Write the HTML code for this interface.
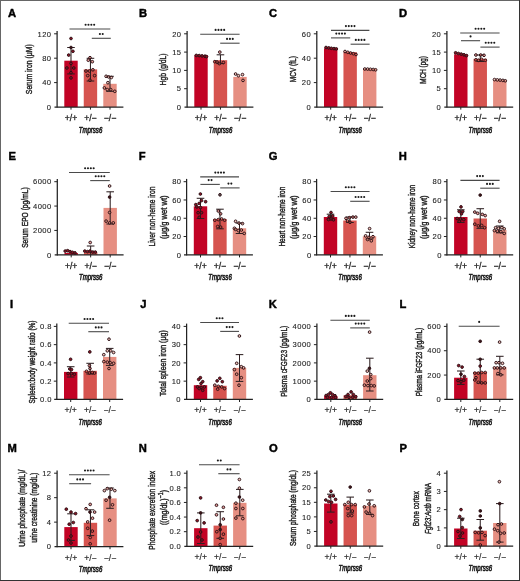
<!DOCTYPE html>
<html><head><meta charset="utf-8"><style>
html,body{margin:0;padding:0;background:#fff;}
body{width:520px;height:581px;overflow:hidden;}
svg{display:block;font-family:"Liberation Sans", sans-serif;will-change:transform;}
</style></head><body>
<svg width="520" height="581" viewBox="0 0 520 581">
<rect x="0" y="0" width="520" height="581" fill="#fff"/>
<text x="7.9" y="16.5" font-size="11.2" text-anchor="start" font-weight="bold" font-style="normal" fill="#000" stroke="#000" stroke-width="0.45" >A</text>
<rect x="64.3" y="60.7" width="13.4" height="46.3" fill="#c20325"/>
<rect x="83.75" y="69.4" width="13.4" height="37.6" fill="#d6544f"/>
<rect x="103.3" y="83.8" width="13.4" height="23.2" fill="#e68f82"/>
<line x1="71" y1="47.5" x2="71" y2="73.9" stroke="#2e2022" stroke-width="1.05"/>
<line x1="67.2" y1="47.5" x2="74.8" y2="47.5" stroke="#2e2022" stroke-width="1.05"/>
<line x1="67.2" y1="73.9" x2="74.8" y2="73.9" stroke="#2e2022" stroke-width="1.05"/>
<line x1="90.45" y1="58.3" x2="90.45" y2="81" stroke="#2e2022" stroke-width="1.05"/>
<line x1="86.65" y1="58.3" x2="94.25" y2="58.3" stroke="#2e2022" stroke-width="1.05"/>
<line x1="86.65" y1="81" x2="94.25" y2="81" stroke="#2e2022" stroke-width="1.05"/>
<line x1="110" y1="76.3" x2="110" y2="91.3" stroke="#2e2022" stroke-width="1.05"/>
<line x1="106.2" y1="76.3" x2="113.8" y2="76.3" stroke="#2e2022" stroke-width="1.05"/>
<line x1="106.2" y1="91.3" x2="113.8" y2="91.3" stroke="#2e2022" stroke-width="1.05"/>
<circle cx="71" cy="38.5" r="1.35" fill="#8e1426" stroke="#2a1014" stroke-width="0.95"/>
<circle cx="71" cy="47.5" r="1.35" fill="#3a1418" stroke="#2a1014" stroke-width="0.95"/>
<circle cx="72.9" cy="51.3" r="1.35" fill="#8e1426" stroke="#2a1014" stroke-width="0.95"/>
<circle cx="68.7" cy="55.1" r="1.35" fill="#8e1426" stroke="#2a1014" stroke-width="0.95"/>
<circle cx="66.9" cy="68" r="1.35" fill="#8e1426" stroke="#2a1014" stroke-width="0.95"/>
<circle cx="71" cy="63.4" r="1.35" fill="#8e1426" stroke="#2a1014" stroke-width="0.95"/>
<circle cx="73.8" cy="68" r="1.35" fill="#8e1426" stroke="#2a1014" stroke-width="0.95"/>
<circle cx="71" cy="72.7" r="1.35" fill="#8e1426" stroke="#2a1014" stroke-width="0.95"/>
<circle cx="71" cy="77.9" r="1.35" fill="#8e1426" stroke="#2a1014" stroke-width="0.95"/>
<circle cx="90" cy="57.7" r="1.35" fill="#d6544f" fill-opacity="0.55" stroke="#2a1014" stroke-width="0.95"/>
<circle cx="88.3" cy="60.2" r="1.35" fill="#d6544f" fill-opacity="0.55" stroke="#2a1014" stroke-width="0.95"/>
<circle cx="92.3" cy="61.7" r="1.35" fill="#d6544f" fill-opacity="0.55" stroke="#2a1014" stroke-width="0.95"/>
<circle cx="86" cy="71" r="1.35" fill="#d6544f" fill-opacity="0.55" stroke="#2a1014" stroke-width="0.95"/>
<circle cx="89.4" cy="71" r="1.35" fill="#d6544f" fill-opacity="0.55" stroke="#2a1014" stroke-width="0.95"/>
<circle cx="92.9" cy="69.8" r="1.35" fill="#d6544f" fill-opacity="0.55" stroke="#2a1014" stroke-width="0.95"/>
<circle cx="87.7" cy="75.6" r="1.35" fill="#d6544f" fill-opacity="0.55" stroke="#2a1014" stroke-width="0.95"/>
<circle cx="94.6" cy="75.6" r="1.35" fill="#d6544f" fill-opacity="0.55" stroke="#2a1014" stroke-width="0.95"/>
<circle cx="90" cy="80.2" r="1.35" fill="#d6544f" fill-opacity="0.55" stroke="#2a1014" stroke-width="0.95"/>
<circle cx="106.1" cy="76.3" r="1.35" fill="#e68f82" fill-opacity="0.55" stroke="#2a1014" stroke-width="0.95"/>
<circle cx="108.6" cy="76.9" r="1.35" fill="#e68f82" fill-opacity="0.55" stroke="#2a1014" stroke-width="0.95"/>
<circle cx="111.3" cy="77.5" r="1.35" fill="#e68f82" fill-opacity="0.55" stroke="#2a1014" stroke-width="0.95"/>
<circle cx="107.9" cy="82.7" r="1.35" fill="#e68f82" fill-opacity="0.55" stroke="#2a1014" stroke-width="0.95"/>
<circle cx="104.4" cy="87.9" r="1.35" fill="#e68f82" fill-opacity="0.55" stroke="#2a1014" stroke-width="0.95"/>
<circle cx="107.3" cy="89.6" r="1.35" fill="#e68f82" fill-opacity="0.55" stroke="#2a1014" stroke-width="0.95"/>
<circle cx="110.7" cy="89.6" r="1.35" fill="#e68f82" fill-opacity="0.55" stroke="#2a1014" stroke-width="0.95"/>
<circle cx="114.8" cy="91.3" r="1.35" fill="#e68f82" fill-opacity="0.55" stroke="#2a1014" stroke-width="0.95"/>
<line x1="57.1" y1="31" x2="57.1" y2="107.6" stroke="#222" stroke-width="1.25"/>
<line x1="54.5" y1="107" x2="123.4" y2="107" stroke="#222" stroke-width="1.25"/>
<text x="51.5" y="109.7" font-size="7.6" text-anchor="end" font-weight="normal" font-style="normal" fill="#222" stroke="#222" stroke-width="0.1" letter-spacing="0.45">0</text>
<line x1="54.1" y1="82.6" x2="57.1" y2="82.6" stroke="#222" stroke-width="1"/>
<text x="51.5" y="85.3" font-size="7.6" text-anchor="end" font-weight="normal" font-style="normal" fill="#222" stroke="#222" stroke-width="0.1" letter-spacing="0.45">40</text>
<line x1="54.1" y1="58.2" x2="57.1" y2="58.2" stroke="#222" stroke-width="1"/>
<text x="51.5" y="60.9" font-size="7.6" text-anchor="end" font-weight="normal" font-style="normal" fill="#222" stroke="#222" stroke-width="0.1" letter-spacing="0.45">80</text>
<line x1="54.1" y1="33.8" x2="57.1" y2="33.8" stroke="#222" stroke-width="1"/>
<text x="51.5" y="36.5" font-size="7.6" text-anchor="end" font-weight="normal" font-style="normal" fill="#222" stroke="#222" stroke-width="0.1" letter-spacing="0.45">120</text>
<line x1="71" y1="107" x2="71" y2="109.6" stroke="#222" stroke-width="1"/>
<text x="71" y="120.9" font-size="8.6" text-anchor="middle" font-weight="normal" font-style="normal" fill="#222" stroke="#222" stroke-width="0.3" >+/+</text>
<line x1="90.45" y1="107" x2="90.45" y2="109.6" stroke="#222" stroke-width="1"/>
<text x="90.45" y="120.9" font-size="8.6" text-anchor="middle" font-weight="normal" font-style="normal" fill="#222" stroke="#222" stroke-width="0.3" >+/−</text>
<line x1="110" y1="107" x2="110" y2="109.6" stroke="#222" stroke-width="1"/>
<text x="110" y="120.9" font-size="8.6" text-anchor="middle" font-weight="normal" font-style="normal" fill="#222" stroke="#222" stroke-width="0.3" >−/−</text>
<text x="90.5" y="132.5" font-size="9.9" text-anchor="middle" font-weight="normal" font-style="italic" fill="#222" stroke="#222" stroke-width="0.7" textLength="23.5" lengthAdjust="spacingAndGlyphs">Tmprss6</text>
<text transform="translate(31.8,69.2) rotate(-90)" x="0" y="0" font-size="9.2" text-anchor="middle" fill="#222" stroke="#222" stroke-width="0.42" textLength="50" lengthAdjust="spacingAndGlyphs">Serum iron (μM)</text>
<line x1="69.5" y1="29" x2="110.3" y2="29" stroke="#4a4a4a" stroke-width="1.1"/>
<circle cx="85.62" cy="24.7" r="1.05" fill="#1a1a1a"/>
<circle cx="88.48" cy="24.7" r="1.05" fill="#1a1a1a"/>
<circle cx="91.33" cy="24.7" r="1.05" fill="#1a1a1a"/>
<circle cx="94.18" cy="24.7" r="1.05" fill="#1a1a1a"/>
<line x1="91.8" y1="38.3" x2="110.8" y2="38.3" stroke="#4a4a4a" stroke-width="1.1"/>
<circle cx="99.88" cy="34" r="1.05" fill="#1a1a1a"/>
<circle cx="102.72" cy="34" r="1.05" fill="#1a1a1a"/>
<text x="138.9" y="16.5" font-size="11.2" text-anchor="start" font-weight="bold" font-style="normal" fill="#000" stroke="#000" stroke-width="0.45" >B</text>
<rect x="194.3" y="55.3" width="13.4" height="51.7" fill="#c20325"/>
<rect x="213.75" y="60.2" width="13.4" height="46.8" fill="#d6544f"/>
<rect x="233.3" y="76.9" width="13.4" height="30.1" fill="#e68f82"/>
<line x1="220.45" y1="54.8" x2="220.45" y2="63.6" stroke="#2e2022" stroke-width="1.05"/>
<line x1="216.65" y1="54.8" x2="224.25" y2="54.8" stroke="#2e2022" stroke-width="1.05"/>
<line x1="216.65" y1="63.6" x2="224.25" y2="63.6" stroke="#2e2022" stroke-width="1.05"/>
<circle cx="196.3" cy="55.4" r="1.35" fill="#8e1426" stroke="#2a1014" stroke-width="0.95"/>
<circle cx="199.2" cy="55.6" r="1.35" fill="#8e1426" stroke="#2a1014" stroke-width="0.95"/>
<circle cx="202.1" cy="55.9" r="1.35" fill="#8e1426" stroke="#2a1014" stroke-width="0.95"/>
<circle cx="205" cy="56.2" r="1.35" fill="#8e1426" stroke="#2a1014" stroke-width="0.95"/>
<circle cx="206.5" cy="56.6" r="1.35" fill="#8e1426" stroke="#2a1014" stroke-width="0.95"/>
<circle cx="219.8" cy="52.1" r="1.35" fill="#d6544f" fill-opacity="0.55" stroke="#2a1014" stroke-width="0.95"/>
<circle cx="214.8" cy="61.7" r="1.35" fill="#d6544f" fill-opacity="0.55" stroke="#2a1014" stroke-width="0.95"/>
<circle cx="219.4" cy="63.6" r="1.35" fill="#d6544f" fill-opacity="0.55" stroke="#2a1014" stroke-width="0.95"/>
<circle cx="223.4" cy="62.5" r="1.35" fill="#d6544f" fill-opacity="0.55" stroke="#2a1014" stroke-width="0.95"/>
<circle cx="217" cy="62" r="1.35" fill="#d6544f" fill-opacity="0.55" stroke="#2a1014" stroke-width="0.95"/>
<circle cx="235.6" cy="74" r="1.35" fill="#e68f82" fill-opacity="0.55" stroke="#2a1014" stroke-width="0.95"/>
<circle cx="238.4" cy="75.7" r="1.35" fill="#e68f82" fill-opacity="0.55" stroke="#2a1014" stroke-width="0.95"/>
<circle cx="242.5" cy="74.6" r="1.35" fill="#e68f82" fill-opacity="0.55" stroke="#2a1014" stroke-width="0.95"/>
<circle cx="243" cy="80.4" r="1.35" fill="#e68f82" fill-opacity="0.55" stroke="#2a1014" stroke-width="0.95"/>
<line x1="187.1" y1="31" x2="187.1" y2="107.6" stroke="#222" stroke-width="1.25"/>
<line x1="184.5" y1="107" x2="253.4" y2="107" stroke="#222" stroke-width="1.25"/>
<text x="181.5" y="109.7" font-size="7.6" text-anchor="end" font-weight="normal" font-style="normal" fill="#222" stroke="#222" stroke-width="0.1" letter-spacing="0.45">0</text>
<line x1="184.1" y1="88.7" x2="187.1" y2="88.7" stroke="#222" stroke-width="1"/>
<text x="181.5" y="91.4" font-size="7.6" text-anchor="end" font-weight="normal" font-style="normal" fill="#222" stroke="#222" stroke-width="0.1" letter-spacing="0.45">5</text>
<line x1="184.1" y1="70.4" x2="187.1" y2="70.4" stroke="#222" stroke-width="1"/>
<text x="181.5" y="73.1" font-size="7.6" text-anchor="end" font-weight="normal" font-style="normal" fill="#222" stroke="#222" stroke-width="0.1" letter-spacing="0.45">10</text>
<line x1="184.1" y1="52.1" x2="187.1" y2="52.1" stroke="#222" stroke-width="1"/>
<text x="181.5" y="54.8" font-size="7.6" text-anchor="end" font-weight="normal" font-style="normal" fill="#222" stroke="#222" stroke-width="0.1" letter-spacing="0.45">15</text>
<line x1="184.1" y1="33.8" x2="187.1" y2="33.8" stroke="#222" stroke-width="1"/>
<text x="181.5" y="36.5" font-size="7.6" text-anchor="end" font-weight="normal" font-style="normal" fill="#222" stroke="#222" stroke-width="0.1" letter-spacing="0.45">20</text>
<line x1="201" y1="107" x2="201" y2="109.6" stroke="#222" stroke-width="1"/>
<text x="201" y="120.9" font-size="8.6" text-anchor="middle" font-weight="normal" font-style="normal" fill="#222" stroke="#222" stroke-width="0.3" >+/+</text>
<line x1="220.45" y1="107" x2="220.45" y2="109.6" stroke="#222" stroke-width="1"/>
<text x="220.45" y="120.9" font-size="8.6" text-anchor="middle" font-weight="normal" font-style="normal" fill="#222" stroke="#222" stroke-width="0.3" >+/−</text>
<line x1="240" y1="107" x2="240" y2="109.6" stroke="#222" stroke-width="1"/>
<text x="240" y="120.9" font-size="8.6" text-anchor="middle" font-weight="normal" font-style="normal" fill="#222" stroke="#222" stroke-width="0.3" >−/−</text>
<text x="220.5" y="132.5" font-size="9.9" text-anchor="middle" font-weight="normal" font-style="italic" fill="#222" stroke="#222" stroke-width="0.7" textLength="23.5" lengthAdjust="spacingAndGlyphs">Tmprss6</text>
<text transform="translate(165.7,69.4) rotate(-90)" x="0" y="0" font-size="9.2" text-anchor="middle" fill="#222" stroke="#222" stroke-width="0.42" textLength="32" lengthAdjust="spacingAndGlyphs">Hgb (g/dL)</text>
<line x1="200.2" y1="34.2" x2="239.6" y2="34.2" stroke="#4a4a4a" stroke-width="1.1"/>
<circle cx="215.62" cy="29.9" r="1.05" fill="#1a1a1a"/>
<circle cx="218.47" cy="29.9" r="1.05" fill="#1a1a1a"/>
<circle cx="221.32" cy="29.9" r="1.05" fill="#1a1a1a"/>
<circle cx="224.17" cy="29.9" r="1.05" fill="#1a1a1a"/>
<line x1="220.2" y1="43.2" x2="239.6" y2="43.2" stroke="#4a4a4a" stroke-width="1.1"/>
<circle cx="227.05" cy="38.9" r="1.05" fill="#1a1a1a"/>
<circle cx="229.9" cy="38.9" r="1.05" fill="#1a1a1a"/>
<circle cx="232.75" cy="38.9" r="1.05" fill="#1a1a1a"/>
<text x="268.9" y="16.5" font-size="11.2" text-anchor="start" font-weight="bold" font-style="normal" fill="#000" stroke="#000" stroke-width="0.45" >C</text>
<rect x="324" y="48.3" width="13.4" height="58.7" fill="#c20325"/>
<rect x="343.45" y="52.2" width="13.4" height="54.8" fill="#d6544f"/>
<rect x="363" y="68.9" width="13.4" height="38.1" fill="#e68f82"/>
<circle cx="326" cy="47.5" r="1.35" fill="#8e1426" stroke="#2a1014" stroke-width="0.95"/>
<circle cx="328.7" cy="47.9" r="1.35" fill="#8e1426" stroke="#2a1014" stroke-width="0.95"/>
<circle cx="331.3" cy="48.3" r="1.35" fill="#8e1426" stroke="#2a1014" stroke-width="0.95"/>
<circle cx="334" cy="48.6" r="1.35" fill="#8e1426" stroke="#2a1014" stroke-width="0.95"/>
<circle cx="336.3" cy="48.9" r="1.35" fill="#8e1426" stroke="#2a1014" stroke-width="0.95"/>
<circle cx="345" cy="51.5" r="1.35" fill="#d6544f" fill-opacity="0.55" stroke="#2a1014" stroke-width="0.95"/>
<circle cx="347.8" cy="52.3" r="1.35" fill="#d6544f" fill-opacity="0.55" stroke="#2a1014" stroke-width="0.95"/>
<circle cx="350.6" cy="53" r="1.35" fill="#d6544f" fill-opacity="0.55" stroke="#2a1014" stroke-width="0.95"/>
<circle cx="353.4" cy="53.7" r="1.35" fill="#d6544f" fill-opacity="0.55" stroke="#2a1014" stroke-width="0.95"/>
<circle cx="356" cy="54.5" r="1.35" fill="#d6544f" fill-opacity="0.55" stroke="#2a1014" stroke-width="0.95"/>
<circle cx="364.8" cy="69" r="1.35" fill="#e68f82" fill-opacity="0.55" stroke="#2a1014" stroke-width="0.95"/>
<circle cx="367.6" cy="69.1" r="1.35" fill="#e68f82" fill-opacity="0.55" stroke="#2a1014" stroke-width="0.95"/>
<circle cx="370.4" cy="69.3" r="1.35" fill="#e68f82" fill-opacity="0.55" stroke="#2a1014" stroke-width="0.95"/>
<circle cx="373.2" cy="69.5" r="1.35" fill="#e68f82" fill-opacity="0.55" stroke="#2a1014" stroke-width="0.95"/>
<circle cx="375.6" cy="69.8" r="1.35" fill="#e68f82" fill-opacity="0.55" stroke="#2a1014" stroke-width="0.95"/>
<line x1="316.8" y1="31" x2="316.8" y2="107.6" stroke="#222" stroke-width="1.25"/>
<line x1="314.2" y1="107" x2="383.1" y2="107" stroke="#222" stroke-width="1.25"/>
<text x="311.2" y="109.7" font-size="7.6" text-anchor="end" font-weight="normal" font-style="normal" fill="#222" stroke="#222" stroke-width="0.1" letter-spacing="0.45">0</text>
<line x1="313.8" y1="82.6" x2="316.8" y2="82.6" stroke="#222" stroke-width="1"/>
<text x="311.2" y="85.3" font-size="7.6" text-anchor="end" font-weight="normal" font-style="normal" fill="#222" stroke="#222" stroke-width="0.1" letter-spacing="0.45">20</text>
<line x1="313.8" y1="58.2" x2="316.8" y2="58.2" stroke="#222" stroke-width="1"/>
<text x="311.2" y="60.9" font-size="7.6" text-anchor="end" font-weight="normal" font-style="normal" fill="#222" stroke="#222" stroke-width="0.1" letter-spacing="0.45">40</text>
<line x1="313.8" y1="33.8" x2="316.8" y2="33.8" stroke="#222" stroke-width="1"/>
<text x="311.2" y="36.5" font-size="7.6" text-anchor="end" font-weight="normal" font-style="normal" fill="#222" stroke="#222" stroke-width="0.1" letter-spacing="0.45">60</text>
<line x1="330.7" y1="107" x2="330.7" y2="109.6" stroke="#222" stroke-width="1"/>
<text x="330.7" y="120.9" font-size="8.6" text-anchor="middle" font-weight="normal" font-style="normal" fill="#222" stroke="#222" stroke-width="0.3" >+/+</text>
<line x1="350.15" y1="107" x2="350.15" y2="109.6" stroke="#222" stroke-width="1"/>
<text x="350.15" y="120.9" font-size="8.6" text-anchor="middle" font-weight="normal" font-style="normal" fill="#222" stroke="#222" stroke-width="0.3" >+/−</text>
<line x1="369.7" y1="107" x2="369.7" y2="109.6" stroke="#222" stroke-width="1"/>
<text x="369.7" y="120.9" font-size="8.6" text-anchor="middle" font-weight="normal" font-style="normal" fill="#222" stroke="#222" stroke-width="0.3" >−/−</text>
<text x="350.2" y="132.5" font-size="9.9" text-anchor="middle" font-weight="normal" font-style="italic" fill="#222" stroke="#222" stroke-width="0.7" textLength="23.5" lengthAdjust="spacingAndGlyphs">Tmprss6</text>
<text transform="translate(295.7,69.2) rotate(-90)" x="0" y="0" font-size="9.2" text-anchor="middle" fill="#222" stroke="#222" stroke-width="0.42" textLength="26" lengthAdjust="spacingAndGlyphs">MCV (fL)</text>
<line x1="331" y1="30.4" x2="369.4" y2="30.4" stroke="#4a4a4a" stroke-width="1.1"/>
<circle cx="345.93" cy="26.1" r="1.05" fill="#1a1a1a"/>
<circle cx="348.77" cy="26.1" r="1.05" fill="#1a1a1a"/>
<circle cx="351.62" cy="26.1" r="1.05" fill="#1a1a1a"/>
<circle cx="354.47" cy="26.1" r="1.05" fill="#1a1a1a"/>
<line x1="331" y1="37.9" x2="350.2" y2="37.9" stroke="#4a4a4a" stroke-width="1.1"/>
<circle cx="336.33" cy="33.6" r="1.05" fill="#1a1a1a"/>
<circle cx="339.18" cy="33.6" r="1.05" fill="#1a1a1a"/>
<circle cx="342.03" cy="33.6" r="1.05" fill="#1a1a1a"/>
<circle cx="344.88" cy="33.6" r="1.05" fill="#1a1a1a"/>
<line x1="350.6" y1="44.2" x2="369.6" y2="44.2" stroke="#4a4a4a" stroke-width="1.1"/>
<circle cx="355.83" cy="39.9" r="1.05" fill="#1a1a1a"/>
<circle cx="358.68" cy="39.9" r="1.05" fill="#1a1a1a"/>
<circle cx="361.53" cy="39.9" r="1.05" fill="#1a1a1a"/>
<circle cx="364.38" cy="39.9" r="1.05" fill="#1a1a1a"/>
<text x="398.9" y="16.5" font-size="11.2" text-anchor="start" font-weight="bold" font-style="normal" fill="#000" stroke="#000" stroke-width="0.45" >D</text>
<rect x="454.1" y="54.3" width="13.4" height="52.7" fill="#c20325"/>
<rect x="473.55" y="58.8" width="13.4" height="48.2" fill="#d6544f"/>
<rect x="493.1" y="80.2" width="13.4" height="26.8" fill="#e68f82"/>
<line x1="480.25" y1="55" x2="480.25" y2="61.5" stroke="#2e2022" stroke-width="1.05"/>
<line x1="476.45" y1="55" x2="484.05" y2="55" stroke="#2e2022" stroke-width="1.05"/>
<line x1="476.45" y1="61.5" x2="484.05" y2="61.5" stroke="#2e2022" stroke-width="1.05"/>
<circle cx="455.6" cy="52.8" r="1.35" fill="#8e1426" stroke="#2a1014" stroke-width="0.95"/>
<circle cx="458.4" cy="53.5" r="1.35" fill="#8e1426" stroke="#2a1014" stroke-width="0.95"/>
<circle cx="461.2" cy="54.1" r="1.35" fill="#8e1426" stroke="#2a1014" stroke-width="0.95"/>
<circle cx="464" cy="54.8" r="1.35" fill="#8e1426" stroke="#2a1014" stroke-width="0.95"/>
<circle cx="466.5" cy="55.6" r="1.35" fill="#8e1426" stroke="#2a1014" stroke-width="0.95"/>
<circle cx="475.9" cy="55" r="1.35" fill="#d6544f" fill-opacity="0.55" stroke="#2a1014" stroke-width="0.95"/>
<circle cx="480.7" cy="55" r="1.35" fill="#d6544f" fill-opacity="0.55" stroke="#2a1014" stroke-width="0.95"/>
<circle cx="484" cy="55.3" r="1.35" fill="#d6544f" fill-opacity="0.55" stroke="#2a1014" stroke-width="0.95"/>
<circle cx="475.9" cy="59.8" r="1.35" fill="#d6544f" fill-opacity="0.55" stroke="#2a1014" stroke-width="0.95"/>
<circle cx="478.6" cy="60.3" r="1.35" fill="#d6544f" fill-opacity="0.55" stroke="#2a1014" stroke-width="0.95"/>
<circle cx="481.6" cy="59.3" r="1.35" fill="#d6544f" fill-opacity="0.55" stroke="#2a1014" stroke-width="0.95"/>
<circle cx="485.3" cy="60.3" r="1.35" fill="#d6544f" fill-opacity="0.55" stroke="#2a1014" stroke-width="0.95"/>
<circle cx="494.5" cy="79.6" r="1.35" fill="#e68f82" fill-opacity="0.55" stroke="#2a1014" stroke-width="0.95"/>
<circle cx="497.3" cy="79.9" r="1.35" fill="#e68f82" fill-opacity="0.55" stroke="#2a1014" stroke-width="0.95"/>
<circle cx="500.1" cy="80.1" r="1.35" fill="#e68f82" fill-opacity="0.55" stroke="#2a1014" stroke-width="0.95"/>
<circle cx="502.9" cy="80.4" r="1.35" fill="#e68f82" fill-opacity="0.55" stroke="#2a1014" stroke-width="0.95"/>
<circle cx="505.3" cy="80.8" r="1.35" fill="#e68f82" fill-opacity="0.55" stroke="#2a1014" stroke-width="0.95"/>
<line x1="446.9" y1="31" x2="446.9" y2="107.6" stroke="#222" stroke-width="1.25"/>
<line x1="444.3" y1="107" x2="513.2" y2="107" stroke="#222" stroke-width="1.25"/>
<text x="441.3" y="109.7" font-size="7.6" text-anchor="end" font-weight="normal" font-style="normal" fill="#222" stroke="#222" stroke-width="0.1" letter-spacing="0.45">0</text>
<line x1="443.9" y1="88.7" x2="446.9" y2="88.7" stroke="#222" stroke-width="1"/>
<text x="441.3" y="91.4" font-size="7.6" text-anchor="end" font-weight="normal" font-style="normal" fill="#222" stroke="#222" stroke-width="0.1" letter-spacing="0.45">5</text>
<line x1="443.9" y1="70.4" x2="446.9" y2="70.4" stroke="#222" stroke-width="1"/>
<text x="441.3" y="73.1" font-size="7.6" text-anchor="end" font-weight="normal" font-style="normal" fill="#222" stroke="#222" stroke-width="0.1" letter-spacing="0.45">10</text>
<line x1="443.9" y1="52.1" x2="446.9" y2="52.1" stroke="#222" stroke-width="1"/>
<text x="441.3" y="54.8" font-size="7.6" text-anchor="end" font-weight="normal" font-style="normal" fill="#222" stroke="#222" stroke-width="0.1" letter-spacing="0.45">15</text>
<line x1="443.9" y1="33.8" x2="446.9" y2="33.8" stroke="#222" stroke-width="1"/>
<text x="441.3" y="36.5" font-size="7.6" text-anchor="end" font-weight="normal" font-style="normal" fill="#222" stroke="#222" stroke-width="0.1" letter-spacing="0.45">20</text>
<line x1="460.8" y1="107" x2="460.8" y2="109.6" stroke="#222" stroke-width="1"/>
<text x="460.8" y="120.9" font-size="8.6" text-anchor="middle" font-weight="normal" font-style="normal" fill="#222" stroke="#222" stroke-width="0.3" >+/+</text>
<line x1="480.25" y1="107" x2="480.25" y2="109.6" stroke="#222" stroke-width="1"/>
<text x="480.25" y="120.9" font-size="8.6" text-anchor="middle" font-weight="normal" font-style="normal" fill="#222" stroke="#222" stroke-width="0.3" >+/−</text>
<line x1="499.8" y1="107" x2="499.8" y2="109.6" stroke="#222" stroke-width="1"/>
<text x="499.8" y="120.9" font-size="8.6" text-anchor="middle" font-weight="normal" font-style="normal" fill="#222" stroke="#222" stroke-width="0.3" >−/−</text>
<text x="480.3" y="132.5" font-size="9.9" text-anchor="middle" font-weight="normal" font-style="italic" fill="#222" stroke="#222" stroke-width="0.7" textLength="23.5" lengthAdjust="spacingAndGlyphs">Tmprss6</text>
<text transform="translate(425.7,69.9) rotate(-90)" x="0" y="0" font-size="9.2" text-anchor="middle" fill="#222" stroke="#222" stroke-width="0.42" textLength="27.5" lengthAdjust="spacingAndGlyphs">MCH (pg)</text>
<line x1="460.2" y1="33" x2="499.6" y2="33" stroke="#4a4a4a" stroke-width="1.1"/>
<circle cx="475.62" cy="28.7" r="1.05" fill="#1a1a1a"/>
<circle cx="478.47" cy="28.7" r="1.05" fill="#1a1a1a"/>
<circle cx="481.32" cy="28.7" r="1.05" fill="#1a1a1a"/>
<circle cx="484.17" cy="28.7" r="1.05" fill="#1a1a1a"/>
<line x1="461" y1="40.7" x2="480.1" y2="40.7" stroke="#4a4a4a" stroke-width="1.1"/>
<circle cx="470.55" cy="36.4" r="1.05" fill="#1a1a1a"/>
<line x1="480.4" y1="47.1" x2="499.6" y2="47.1" stroke="#4a4a4a" stroke-width="1.1"/>
<circle cx="485.73" cy="42.8" r="1.05" fill="#1a1a1a"/>
<circle cx="488.57" cy="42.8" r="1.05" fill="#1a1a1a"/>
<circle cx="491.43" cy="42.8" r="1.05" fill="#1a1a1a"/>
<circle cx="494.27" cy="42.8" r="1.05" fill="#1a1a1a"/>
<text x="8.6" y="160.3" font-size="11.2" text-anchor="start" font-weight="bold" font-style="normal" fill="#000" stroke="#000" stroke-width="0.45" >E</text>
<rect x="64.5" y="253" width="13.4" height="1.8" fill="#c20325"/>
<rect x="83.95" y="252.3" width="13.4" height="2.5" fill="#d6544f"/>
<rect x="103.5" y="207.9" width="13.4" height="46.9" fill="#e68f82"/>
<line x1="90.65" y1="246" x2="90.65" y2="254.8" stroke="#2e2022" stroke-width="1.05"/>
<line x1="86.85" y1="246" x2="94.45" y2="246" stroke="#2e2022" stroke-width="1.05"/>
<line x1="110.2" y1="191.8" x2="110.2" y2="224" stroke="#2e2022" stroke-width="1.05"/>
<line x1="106.4" y1="191.8" x2="114" y2="191.8" stroke="#2e2022" stroke-width="1.05"/>
<line x1="106.4" y1="224" x2="114" y2="224" stroke="#2e2022" stroke-width="1.05"/>
<circle cx="65.2" cy="251.1" r="1.35" fill="#8e1426" stroke="#2a1014" stroke-width="0.95"/>
<circle cx="67.6" cy="250.7" r="1.35" fill="#8e1426" stroke="#2a1014" stroke-width="0.95"/>
<circle cx="70" cy="251.6" r="1.35" fill="#8e1426" stroke="#2a1014" stroke-width="0.95"/>
<circle cx="72.4" cy="252.3" r="1.35" fill="#8e1426" stroke="#2a1014" stroke-width="0.95"/>
<circle cx="75" cy="252.9" r="1.35" fill="#8e1426" stroke="#2a1014" stroke-width="0.95"/>
<circle cx="90.2" cy="242.5" r="1.35" fill="#d6544f" fill-opacity="0.55" stroke="#2a1014" stroke-width="0.95"/>
<circle cx="84.8" cy="251.1" r="1.35" fill="#8e1426" stroke="#2a1014" stroke-width="0.95"/>
<circle cx="87.5" cy="251.6" r="1.35" fill="#8e1426" stroke="#2a1014" stroke-width="0.95"/>
<circle cx="90" cy="251.1" r="1.35" fill="#8e1426" stroke="#2a1014" stroke-width="0.95"/>
<circle cx="92.8" cy="252.1" r="1.35" fill="#8e1426" stroke="#2a1014" stroke-width="0.95"/>
<circle cx="95.3" cy="252.1" r="1.35" fill="#8e1426" stroke="#2a1014" stroke-width="0.95"/>
<circle cx="109.6" cy="186" r="1.35" fill="#e68f82" fill-opacity="0.55" stroke="#2a1014" stroke-width="0.95"/>
<circle cx="109.6" cy="197.1" r="1.35" fill="#3a1418" stroke="#2a1014" stroke-width="0.95"/>
<circle cx="109.6" cy="212.5" r="1.35" fill="#e68f82" fill-opacity="0.55" stroke="#2a1014" stroke-width="0.95"/>
<circle cx="106.1" cy="221.1" r="1.35" fill="#e68f82" fill-opacity="0.55" stroke="#2a1014" stroke-width="0.95"/>
<circle cx="109.6" cy="222.9" r="1.35" fill="#e68f82" fill-opacity="0.55" stroke="#2a1014" stroke-width="0.95"/>
<circle cx="113.3" cy="222.9" r="1.35" fill="#e68f82" fill-opacity="0.55" stroke="#2a1014" stroke-width="0.95"/>
<line x1="57.3" y1="178.9" x2="57.3" y2="255.4" stroke="#222" stroke-width="1.25"/>
<line x1="54.7" y1="254.8" x2="123.6" y2="254.8" stroke="#222" stroke-width="1.25"/>
<text x="51.7" y="257.5" font-size="7.6" text-anchor="end" font-weight="normal" font-style="normal" fill="#222" stroke="#222" stroke-width="0.1" letter-spacing="0.45">0</text>
<line x1="54.3" y1="230.43" x2="57.3" y2="230.43" stroke="#222" stroke-width="1"/>
<text x="51.7" y="233.13" font-size="7.6" text-anchor="end" font-weight="normal" font-style="normal" fill="#222" stroke="#222" stroke-width="0.1" letter-spacing="0.45">2000</text>
<line x1="54.3" y1="206.07" x2="57.3" y2="206.07" stroke="#222" stroke-width="1"/>
<text x="51.7" y="208.77" font-size="7.6" text-anchor="end" font-weight="normal" font-style="normal" fill="#222" stroke="#222" stroke-width="0.1" letter-spacing="0.45">4000</text>
<line x1="54.3" y1="181.7" x2="57.3" y2="181.7" stroke="#222" stroke-width="1"/>
<text x="51.7" y="184.4" font-size="7.6" text-anchor="end" font-weight="normal" font-style="normal" fill="#222" stroke="#222" stroke-width="0.1" letter-spacing="0.45">6000</text>
<line x1="71.2" y1="254.8" x2="71.2" y2="257.4" stroke="#222" stroke-width="1"/>
<text x="71.2" y="269.2" font-size="8.6" text-anchor="middle" font-weight="normal" font-style="normal" fill="#222" stroke="#222" stroke-width="0.3" >+/+</text>
<line x1="90.65" y1="254.8" x2="90.65" y2="257.4" stroke="#222" stroke-width="1"/>
<text x="90.65" y="269.2" font-size="8.6" text-anchor="middle" font-weight="normal" font-style="normal" fill="#222" stroke="#222" stroke-width="0.3" >+/−</text>
<line x1="110.2" y1="254.8" x2="110.2" y2="257.4" stroke="#222" stroke-width="1"/>
<text x="110.2" y="269.2" font-size="8.6" text-anchor="middle" font-weight="normal" font-style="normal" fill="#222" stroke="#222" stroke-width="0.3" >−/−</text>
<text x="90.7" y="280.3" font-size="9.9" text-anchor="middle" font-weight="normal" font-style="italic" fill="#222" stroke="#222" stroke-width="0.7" textLength="23.5" lengthAdjust="spacingAndGlyphs">Tmprss6</text>
<text transform="translate(27.5,217.6) rotate(-90)" x="0" y="0" font-size="9.2" text-anchor="middle" fill="#222" stroke="#222" stroke-width="0.42" textLength="60.5" lengthAdjust="spacingAndGlyphs">Serum EPO (pg/mL)</text>
<line x1="69" y1="172.5" x2="109.8" y2="172.5" stroke="#4a4a4a" stroke-width="1.1"/>
<circle cx="85.12" cy="168.2" r="1.05" fill="#1a1a1a"/>
<circle cx="87.98" cy="168.2" r="1.05" fill="#1a1a1a"/>
<circle cx="90.83" cy="168.2" r="1.05" fill="#1a1a1a"/>
<circle cx="93.68" cy="168.2" r="1.05" fill="#1a1a1a"/>
<line x1="90.2" y1="180.6" x2="109.8" y2="180.6" stroke="#4a4a4a" stroke-width="1.1"/>
<circle cx="95.72" cy="176.3" r="1.05" fill="#1a1a1a"/>
<circle cx="98.58" cy="176.3" r="1.05" fill="#1a1a1a"/>
<circle cx="101.42" cy="176.3" r="1.05" fill="#1a1a1a"/>
<circle cx="104.28" cy="176.3" r="1.05" fill="#1a1a1a"/>
<text x="138.7" y="160.3" font-size="11.2" text-anchor="start" font-weight="bold" font-style="normal" fill="#000" stroke="#000" stroke-width="0.45" >F</text>
<rect x="193.8" y="206.3" width="13.4" height="48.5" fill="#c20325"/>
<rect x="213.25" y="219" width="13.4" height="35.8" fill="#d6544f"/>
<rect x="232.8" y="228.3" width="13.4" height="26.5" fill="#e68f82"/>
<line x1="200.5" y1="198.3" x2="200.5" y2="218.5" stroke="#2e2022" stroke-width="1.05"/>
<line x1="196.7" y1="198.3" x2="204.3" y2="198.3" stroke="#2e2022" stroke-width="1.05"/>
<line x1="196.7" y1="218.5" x2="204.3" y2="218.5" stroke="#2e2022" stroke-width="1.05"/>
<line x1="219.95" y1="209.2" x2="219.95" y2="228.8" stroke="#2e2022" stroke-width="1.05"/>
<line x1="216.15" y1="209.2" x2="223.75" y2="209.2" stroke="#2e2022" stroke-width="1.05"/>
<line x1="216.15" y1="228.8" x2="223.75" y2="228.8" stroke="#2e2022" stroke-width="1.05"/>
<line x1="239.5" y1="223.1" x2="239.5" y2="233.5" stroke="#2e2022" stroke-width="1.05"/>
<line x1="235.7" y1="223.1" x2="243.3" y2="223.1" stroke="#2e2022" stroke-width="1.05"/>
<line x1="235.7" y1="233.5" x2="243.3" y2="233.5" stroke="#2e2022" stroke-width="1.05"/>
<circle cx="200.4" cy="194" r="1.35" fill="#8e1426" stroke="#2a1014" stroke-width="0.95"/>
<circle cx="201.5" cy="200.6" r="1.35" fill="#8e1426" stroke="#2a1014" stroke-width="0.95"/>
<circle cx="205.6" cy="201.7" r="1.35" fill="#8e1426" stroke="#2a1014" stroke-width="0.95"/>
<circle cx="199.2" cy="203.4" r="1.35" fill="#8e1426" stroke="#2a1014" stroke-width="0.95"/>
<circle cx="195.8" cy="204.6" r="1.35" fill="#8e1426" stroke="#2a1014" stroke-width="0.95"/>
<circle cx="196.9" cy="206.9" r="1.35" fill="#8e1426" stroke="#2a1014" stroke-width="0.95"/>
<circle cx="200.5" cy="207.5" r="1.35" fill="#8e1426" stroke="#2a1014" stroke-width="0.95"/>
<circle cx="198.1" cy="212.7" r="1.35" fill="#8e1426" stroke="#2a1014" stroke-width="0.95"/>
<circle cx="201.5" cy="212.7" r="1.35" fill="#8e1426" stroke="#2a1014" stroke-width="0.95"/>
<circle cx="199.2" cy="217.3" r="1.35" fill="#8e1426" stroke="#2a1014" stroke-width="0.95"/>
<circle cx="220" cy="194.8" r="1.35" fill="#6a5a5c" stroke="#2a1014" stroke-width="0.95"/>
<circle cx="218.3" cy="211" r="1.35" fill="#d6544f" fill-opacity="0.55" stroke="#2a1014" stroke-width="0.95"/>
<circle cx="220.6" cy="213.8" r="1.35" fill="#d6544f" fill-opacity="0.55" stroke="#2a1014" stroke-width="0.95"/>
<circle cx="214.8" cy="220.2" r="1.35" fill="#d6544f" fill-opacity="0.55" stroke="#2a1014" stroke-width="0.95"/>
<circle cx="218.3" cy="219.6" r="1.35" fill="#d6544f" fill-opacity="0.55" stroke="#2a1014" stroke-width="0.95"/>
<circle cx="221.7" cy="219" r="1.35" fill="#d6544f" fill-opacity="0.55" stroke="#2a1014" stroke-width="0.95"/>
<circle cx="224.6" cy="220.2" r="1.35" fill="#d6544f" fill-opacity="0.55" stroke="#2a1014" stroke-width="0.95"/>
<circle cx="217.7" cy="226.5" r="1.35" fill="#d6544f" fill-opacity="0.55" stroke="#2a1014" stroke-width="0.95"/>
<circle cx="220.6" cy="227.1" r="1.35" fill="#d6544f" fill-opacity="0.55" stroke="#2a1014" stroke-width="0.95"/>
<circle cx="235.6" cy="221.3" r="1.35" fill="#e68f82" fill-opacity="0.55" stroke="#2a1014" stroke-width="0.95"/>
<circle cx="239" cy="223.1" r="1.35" fill="#e68f82" fill-opacity="0.55" stroke="#2a1014" stroke-width="0.95"/>
<circle cx="242.5" cy="223.6" r="1.35" fill="#e68f82" fill-opacity="0.55" stroke="#2a1014" stroke-width="0.95"/>
<circle cx="234.4" cy="228.3" r="1.35" fill="#e68f82" fill-opacity="0.55" stroke="#2a1014" stroke-width="0.95"/>
<circle cx="235.6" cy="229.4" r="1.35" fill="#e68f82" fill-opacity="0.55" stroke="#2a1014" stroke-width="0.95"/>
<circle cx="238.4" cy="230.6" r="1.35" fill="#e68f82" fill-opacity="0.55" stroke="#2a1014" stroke-width="0.95"/>
<circle cx="241.3" cy="230" r="1.35" fill="#e68f82" fill-opacity="0.55" stroke="#2a1014" stroke-width="0.95"/>
<circle cx="244.2" cy="233.4" r="1.35" fill="#e68f82" fill-opacity="0.55" stroke="#2a1014" stroke-width="0.95"/>
<line x1="186.6" y1="178.9" x2="186.6" y2="255.4" stroke="#222" stroke-width="1.25"/>
<line x1="184" y1="254.8" x2="252.9" y2="254.8" stroke="#222" stroke-width="1.25"/>
<text x="181.5" y="257.5" font-size="7.6" text-anchor="end" font-weight="normal" font-style="normal" fill="#222" stroke="#222" stroke-width="0.1" letter-spacing="0.45">0</text>
<line x1="183.6" y1="236.53" x2="186.6" y2="236.53" stroke="#222" stroke-width="1"/>
<text x="181.5" y="239.22" font-size="7.6" text-anchor="end" font-weight="normal" font-style="normal" fill="#222" stroke="#222" stroke-width="0.1" letter-spacing="0.45">20</text>
<line x1="183.6" y1="218.25" x2="186.6" y2="218.25" stroke="#222" stroke-width="1"/>
<text x="181.5" y="220.95" font-size="7.6" text-anchor="end" font-weight="normal" font-style="normal" fill="#222" stroke="#222" stroke-width="0.1" letter-spacing="0.45">40</text>
<line x1="183.6" y1="199.97" x2="186.6" y2="199.97" stroke="#222" stroke-width="1"/>
<text x="181.5" y="202.67" font-size="7.6" text-anchor="end" font-weight="normal" font-style="normal" fill="#222" stroke="#222" stroke-width="0.1" letter-spacing="0.45">60</text>
<line x1="183.6" y1="181.7" x2="186.6" y2="181.7" stroke="#222" stroke-width="1"/>
<text x="181.5" y="184.4" font-size="7.6" text-anchor="end" font-weight="normal" font-style="normal" fill="#222" stroke="#222" stroke-width="0.1" letter-spacing="0.45">80</text>
<line x1="200.5" y1="254.8" x2="200.5" y2="257.4" stroke="#222" stroke-width="1"/>
<text x="200.5" y="269.2" font-size="8.6" text-anchor="middle" font-weight="normal" font-style="normal" fill="#222" stroke="#222" stroke-width="0.3" >+/+</text>
<line x1="219.95" y1="254.8" x2="219.95" y2="257.4" stroke="#222" stroke-width="1"/>
<text x="219.95" y="269.2" font-size="8.6" text-anchor="middle" font-weight="normal" font-style="normal" fill="#222" stroke="#222" stroke-width="0.3" >+/−</text>
<line x1="239.5" y1="254.8" x2="239.5" y2="257.4" stroke="#222" stroke-width="1"/>
<text x="239.5" y="269.2" font-size="8.6" text-anchor="middle" font-weight="normal" font-style="normal" fill="#222" stroke="#222" stroke-width="0.3" >−/−</text>
<text x="220" y="280.3" font-size="9.9" text-anchor="middle" font-weight="normal" font-style="italic" fill="#222" stroke="#222" stroke-width="0.7" textLength="23.5" lengthAdjust="spacingAndGlyphs">Tmprss6</text>
<text transform="translate(155.2,216.4) rotate(-90)" x="0" y="0" font-size="9.2" text-anchor="middle" fill="#222" stroke="#222" stroke-width="0.42" textLength="60" lengthAdjust="spacingAndGlyphs">Liver non-heme iron</text>
<text transform="translate(166.5,217.2) rotate(-90)" x="0" y="0" font-size="9.2" text-anchor="middle" fill="#222" stroke="#222" stroke-width="0.42" textLength="43.5" lengthAdjust="spacingAndGlyphs">(μg/g wet wt)</text>
<line x1="200.2" y1="176.9" x2="239" y2="176.9" stroke="#4a4a4a" stroke-width="1.1"/>
<circle cx="215.32" cy="172.6" r="1.05" fill="#1a1a1a"/>
<circle cx="218.17" cy="172.6" r="1.05" fill="#1a1a1a"/>
<circle cx="221.03" cy="172.6" r="1.05" fill="#1a1a1a"/>
<circle cx="223.88" cy="172.6" r="1.05" fill="#1a1a1a"/>
<line x1="200.4" y1="184.4" x2="219.8" y2="184.4" stroke="#4a4a4a" stroke-width="1.1"/>
<circle cx="208.68" cy="180.1" r="1.05" fill="#1a1a1a"/>
<circle cx="211.53" cy="180.1" r="1.05" fill="#1a1a1a"/>
<line x1="220.2" y1="187.9" x2="239.6" y2="187.9" stroke="#4a4a4a" stroke-width="1.1"/>
<circle cx="228.47" cy="183.6" r="1.05" fill="#1a1a1a"/>
<circle cx="231.32" cy="183.6" r="1.05" fill="#1a1a1a"/>
<text x="268.7" y="160.3" font-size="11.2" text-anchor="start" font-weight="bold" font-style="normal" fill="#000" stroke="#000" stroke-width="0.45" >G</text>
<rect x="323.8" y="217" width="13.4" height="37.8" fill="#c20325"/>
<rect x="343.25" y="220.5" width="13.4" height="34.3" fill="#d6544f"/>
<rect x="362.8" y="236.3" width="13.4" height="18.5" fill="#e68f82"/>
<line x1="330.5" y1="214.2" x2="330.5" y2="219" stroke="#2e2022" stroke-width="1.05"/>
<line x1="326.7" y1="214.2" x2="334.3" y2="214.2" stroke="#2e2022" stroke-width="1.05"/>
<line x1="326.7" y1="219" x2="334.3" y2="219" stroke="#2e2022" stroke-width="1.05"/>
<line x1="349.95" y1="217" x2="349.95" y2="222.5" stroke="#2e2022" stroke-width="1.05"/>
<line x1="346.15" y1="217" x2="353.75" y2="217" stroke="#2e2022" stroke-width="1.05"/>
<line x1="346.15" y1="222.5" x2="353.75" y2="222.5" stroke="#2e2022" stroke-width="1.05"/>
<line x1="369.5" y1="232.3" x2="369.5" y2="239" stroke="#2e2022" stroke-width="1.05"/>
<line x1="365.7" y1="232.3" x2="373.3" y2="232.3" stroke="#2e2022" stroke-width="1.05"/>
<line x1="365.7" y1="239" x2="373.3" y2="239" stroke="#2e2022" stroke-width="1.05"/>
<circle cx="331" cy="212.5" r="1.35" fill="#8e1426" stroke="#2a1014" stroke-width="0.95"/>
<circle cx="329.2" cy="216.5" r="1.35" fill="#8e1426" stroke="#2a1014" stroke-width="0.95"/>
<circle cx="332.7" cy="216" r="1.35" fill="#8e1426" stroke="#2a1014" stroke-width="0.95"/>
<circle cx="331" cy="219" r="1.35" fill="#8e1426" stroke="#2a1014" stroke-width="0.95"/>
<circle cx="328.5" cy="219.5" r="1.35" fill="#8e1426" stroke="#2a1014" stroke-width="0.95"/>
<circle cx="333.5" cy="219.8" r="1.35" fill="#8e1426" stroke="#2a1014" stroke-width="0.95"/>
<circle cx="346" cy="218.3" r="1.35" fill="#d6544f" fill-opacity="0.55" stroke="#2a1014" stroke-width="0.95"/>
<circle cx="349.4" cy="217.7" r="1.35" fill="#d6544f" fill-opacity="0.55" stroke="#2a1014" stroke-width="0.95"/>
<circle cx="352.9" cy="217.1" r="1.35" fill="#d6544f" fill-opacity="0.55" stroke="#2a1014" stroke-width="0.95"/>
<circle cx="355.8" cy="217.1" r="1.35" fill="#d6544f" fill-opacity="0.55" stroke="#2a1014" stroke-width="0.95"/>
<circle cx="350" cy="222.3" r="1.35" fill="#d6544f" fill-opacity="0.55" stroke="#2a1014" stroke-width="0.95"/>
<circle cx="347.5" cy="221" r="1.35" fill="#d6544f" fill-opacity="0.55" stroke="#2a1014" stroke-width="0.95"/>
<circle cx="369.6" cy="228.6" r="1.35" fill="#e68f82" fill-opacity="0.55" stroke="#2a1014" stroke-width="0.95"/>
<circle cx="365.6" cy="235.9" r="1.35" fill="#e68f82" fill-opacity="0.55" stroke="#2a1014" stroke-width="0.95"/>
<circle cx="369" cy="237.3" r="1.35" fill="#e68f82" fill-opacity="0.55" stroke="#2a1014" stroke-width="0.95"/>
<circle cx="373" cy="236.7" r="1.35" fill="#e68f82" fill-opacity="0.55" stroke="#2a1014" stroke-width="0.95"/>
<circle cx="371.3" cy="240.8" r="1.35" fill="#e68f82" fill-opacity="0.55" stroke="#2a1014" stroke-width="0.95"/>
<circle cx="367.6" cy="239.5" r="1.35" fill="#e68f82" fill-opacity="0.55" stroke="#2a1014" stroke-width="0.95"/>
<line x1="316.6" y1="178.9" x2="316.6" y2="255.4" stroke="#222" stroke-width="1.25"/>
<line x1="314" y1="254.8" x2="382.9" y2="254.8" stroke="#222" stroke-width="1.25"/>
<text x="311.6" y="257.5" font-size="7.6" text-anchor="end" font-weight="normal" font-style="normal" fill="#222" stroke="#222" stroke-width="0.1" letter-spacing="0.45">0</text>
<line x1="313.6" y1="236.53" x2="316.6" y2="236.53" stroke="#222" stroke-width="1"/>
<text x="311.6" y="239.22" font-size="7.6" text-anchor="end" font-weight="normal" font-style="normal" fill="#222" stroke="#222" stroke-width="0.1" letter-spacing="0.45">20</text>
<line x1="313.6" y1="218.25" x2="316.6" y2="218.25" stroke="#222" stroke-width="1"/>
<text x="311.6" y="220.95" font-size="7.6" text-anchor="end" font-weight="normal" font-style="normal" fill="#222" stroke="#222" stroke-width="0.1" letter-spacing="0.45">40</text>
<line x1="313.6" y1="199.97" x2="316.6" y2="199.97" stroke="#222" stroke-width="1"/>
<text x="311.6" y="202.67" font-size="7.6" text-anchor="end" font-weight="normal" font-style="normal" fill="#222" stroke="#222" stroke-width="0.1" letter-spacing="0.45">60</text>
<line x1="313.6" y1="181.7" x2="316.6" y2="181.7" stroke="#222" stroke-width="1"/>
<text x="311.6" y="184.4" font-size="7.6" text-anchor="end" font-weight="normal" font-style="normal" fill="#222" stroke="#222" stroke-width="0.1" letter-spacing="0.45">80</text>
<line x1="330.5" y1="254.8" x2="330.5" y2="257.4" stroke="#222" stroke-width="1"/>
<text x="330.5" y="269.2" font-size="8.6" text-anchor="middle" font-weight="normal" font-style="normal" fill="#222" stroke="#222" stroke-width="0.3" >+/+</text>
<line x1="349.95" y1="254.8" x2="349.95" y2="257.4" stroke="#222" stroke-width="1"/>
<text x="349.95" y="269.2" font-size="8.6" text-anchor="middle" font-weight="normal" font-style="normal" fill="#222" stroke="#222" stroke-width="0.3" >+/−</text>
<line x1="369.5" y1="254.8" x2="369.5" y2="257.4" stroke="#222" stroke-width="1"/>
<text x="369.5" y="269.2" font-size="8.6" text-anchor="middle" font-weight="normal" font-style="normal" fill="#222" stroke="#222" stroke-width="0.3" >−/−</text>
<text x="350" y="280.3" font-size="9.9" text-anchor="middle" font-weight="normal" font-style="italic" fill="#222" stroke="#222" stroke-width="0.7" textLength="23.5" lengthAdjust="spacingAndGlyphs">Tmprss6</text>
<text transform="translate(285.2,216.6) rotate(-90)" x="0" y="0" font-size="9.2" text-anchor="middle" fill="#222" stroke="#222" stroke-width="0.42" textLength="60" lengthAdjust="spacingAndGlyphs">Heart non-heme iron</text>
<text transform="translate(296.5,217.2) rotate(-90)" x="0" y="0" font-size="9.2" text-anchor="middle" fill="#222" stroke="#222" stroke-width="0.42" textLength="43.5" lengthAdjust="spacingAndGlyphs">(μg/g wet wt)</text>
<line x1="330.6" y1="191.5" x2="369.6" y2="191.5" stroke="#4a4a4a" stroke-width="1.1"/>
<circle cx="345.83" cy="187.2" r="1.05" fill="#1a1a1a"/>
<circle cx="348.68" cy="187.2" r="1.05" fill="#1a1a1a"/>
<circle cx="351.53" cy="187.2" r="1.05" fill="#1a1a1a"/>
<circle cx="354.38" cy="187.2" r="1.05" fill="#1a1a1a"/>
<line x1="350.2" y1="201.3" x2="369.6" y2="201.3" stroke="#4a4a4a" stroke-width="1.1"/>
<circle cx="355.62" cy="197" r="1.05" fill="#1a1a1a"/>
<circle cx="358.47" cy="197" r="1.05" fill="#1a1a1a"/>
<circle cx="361.32" cy="197" r="1.05" fill="#1a1a1a"/>
<circle cx="364.17" cy="197" r="1.05" fill="#1a1a1a"/>
<text x="398.7" y="160.3" font-size="11.2" text-anchor="start" font-weight="bold" font-style="normal" fill="#000" stroke="#000" stroke-width="0.45" >H</text>
<rect x="454.1" y="217" width="13.4" height="37.8" fill="#c20325"/>
<rect x="473.55" y="218.5" width="13.4" height="36.3" fill="#d6544f"/>
<rect x="493.1" y="230" width="13.4" height="24.8" fill="#e68f82"/>
<line x1="460.8" y1="209.8" x2="460.8" y2="222.4" stroke="#2e2022" stroke-width="1.05"/>
<line x1="457" y1="209.8" x2="464.6" y2="209.8" stroke="#2e2022" stroke-width="1.05"/>
<line x1="457" y1="222.4" x2="464.6" y2="222.4" stroke="#2e2022" stroke-width="1.05"/>
<line x1="480.25" y1="208.7" x2="480.25" y2="228.3" stroke="#2e2022" stroke-width="1.05"/>
<line x1="476.45" y1="208.7" x2="484.05" y2="208.7" stroke="#2e2022" stroke-width="1.05"/>
<line x1="476.45" y1="228.3" x2="484.05" y2="228.3" stroke="#2e2022" stroke-width="1.05"/>
<line x1="499.8" y1="226" x2="499.8" y2="232.8" stroke="#2e2022" stroke-width="1.05"/>
<line x1="496" y1="226" x2="503.6" y2="226" stroke="#2e2022" stroke-width="1.05"/>
<line x1="496" y1="232.8" x2="503.6" y2="232.8" stroke="#2e2022" stroke-width="1.05"/>
<circle cx="461" cy="206.9" r="1.35" fill="#8e1426" stroke="#2a1014" stroke-width="0.95"/>
<circle cx="459.2" cy="211.5" r="1.35" fill="#8e1426" stroke="#2a1014" stroke-width="0.95"/>
<circle cx="462.7" cy="211.5" r="1.35" fill="#8e1426" stroke="#2a1014" stroke-width="0.95"/>
<circle cx="461.5" cy="213.8" r="1.35" fill="#8e1426" stroke="#2a1014" stroke-width="0.95"/>
<circle cx="457.1" cy="218.5" r="1.35" fill="#8e1426" stroke="#2a1014" stroke-width="0.95"/>
<circle cx="460.4" cy="219" r="1.35" fill="#8e1426" stroke="#2a1014" stroke-width="0.95"/>
<circle cx="463.8" cy="219.6" r="1.35" fill="#8e1426" stroke="#2a1014" stroke-width="0.95"/>
<circle cx="459.2" cy="221.3" r="1.35" fill="#8e1426" stroke="#2a1014" stroke-width="0.95"/>
<circle cx="480.2" cy="195.1" r="1.35" fill="#3a1418" stroke="#2a1014" stroke-width="0.95"/>
<circle cx="474.8" cy="212.1" r="1.35" fill="#d6544f" fill-opacity="0.55" stroke="#2a1014" stroke-width="0.95"/>
<circle cx="477.7" cy="213.3" r="1.35" fill="#d6544f" fill-opacity="0.55" stroke="#2a1014" stroke-width="0.95"/>
<circle cx="482.3" cy="214.4" r="1.35" fill="#d6544f" fill-opacity="0.55" stroke="#2a1014" stroke-width="0.95"/>
<circle cx="485.2" cy="215.6" r="1.35" fill="#d6544f" fill-opacity="0.55" stroke="#2a1014" stroke-width="0.95"/>
<circle cx="474.8" cy="224.2" r="1.35" fill="#d6544f" fill-opacity="0.55" stroke="#2a1014" stroke-width="0.95"/>
<circle cx="478.3" cy="225.9" r="1.35" fill="#d6544f" fill-opacity="0.55" stroke="#2a1014" stroke-width="0.95"/>
<circle cx="481.7" cy="225.4" r="1.35" fill="#d6544f" fill-opacity="0.55" stroke="#2a1014" stroke-width="0.95"/>
<circle cx="484.6" cy="227.7" r="1.35" fill="#d6544f" fill-opacity="0.55" stroke="#2a1014" stroke-width="0.95"/>
<circle cx="499.6" cy="221.3" r="1.35" fill="#e68f82" fill-opacity="0.55" stroke="#2a1014" stroke-width="0.95"/>
<circle cx="495.6" cy="227.7" r="1.35" fill="#e68f82" fill-opacity="0.55" stroke="#2a1014" stroke-width="0.95"/>
<circle cx="498.4" cy="228.3" r="1.35" fill="#e68f82" fill-opacity="0.55" stroke="#2a1014" stroke-width="0.95"/>
<circle cx="501.9" cy="227.7" r="1.35" fill="#e68f82" fill-opacity="0.55" stroke="#2a1014" stroke-width="0.95"/>
<circle cx="504.2" cy="228.8" r="1.35" fill="#e68f82" fill-opacity="0.55" stroke="#2a1014" stroke-width="0.95"/>
<circle cx="494.4" cy="230.6" r="1.35" fill="#e68f82" fill-opacity="0.55" stroke="#2a1014" stroke-width="0.95"/>
<circle cx="497.3" cy="231.1" r="1.35" fill="#e68f82" fill-opacity="0.55" stroke="#2a1014" stroke-width="0.95"/>
<circle cx="500.8" cy="231.7" r="1.35" fill="#e68f82" fill-opacity="0.55" stroke="#2a1014" stroke-width="0.95"/>
<circle cx="504.2" cy="233.4" r="1.35" fill="#e68f82" fill-opacity="0.55" stroke="#2a1014" stroke-width="0.95"/>
<line x1="446.9" y1="178.9" x2="446.9" y2="255.4" stroke="#222" stroke-width="1.25"/>
<line x1="444.3" y1="254.8" x2="513.2" y2="254.8" stroke="#222" stroke-width="1.25"/>
<text x="441.9" y="257.5" font-size="7.6" text-anchor="end" font-weight="normal" font-style="normal" fill="#222" stroke="#222" stroke-width="0.1" letter-spacing="0.45">0</text>
<line x1="443.9" y1="236.53" x2="446.9" y2="236.53" stroke="#222" stroke-width="1"/>
<text x="441.9" y="239.22" font-size="7.6" text-anchor="end" font-weight="normal" font-style="normal" fill="#222" stroke="#222" stroke-width="0.1" letter-spacing="0.45">20</text>
<line x1="443.9" y1="218.25" x2="446.9" y2="218.25" stroke="#222" stroke-width="1"/>
<text x="441.9" y="220.95" font-size="7.6" text-anchor="end" font-weight="normal" font-style="normal" fill="#222" stroke="#222" stroke-width="0.1" letter-spacing="0.45">40</text>
<line x1="443.9" y1="199.97" x2="446.9" y2="199.97" stroke="#222" stroke-width="1"/>
<text x="441.9" y="202.67" font-size="7.6" text-anchor="end" font-weight="normal" font-style="normal" fill="#222" stroke="#222" stroke-width="0.1" letter-spacing="0.45">60</text>
<line x1="443.9" y1="181.7" x2="446.9" y2="181.7" stroke="#222" stroke-width="1"/>
<text x="441.9" y="184.4" font-size="7.6" text-anchor="end" font-weight="normal" font-style="normal" fill="#222" stroke="#222" stroke-width="0.1" letter-spacing="0.45">80</text>
<line x1="460.8" y1="254.8" x2="460.8" y2="257.4" stroke="#222" stroke-width="1"/>
<text x="460.8" y="269.2" font-size="8.6" text-anchor="middle" font-weight="normal" font-style="normal" fill="#222" stroke="#222" stroke-width="0.3" >+/+</text>
<line x1="480.25" y1="254.8" x2="480.25" y2="257.4" stroke="#222" stroke-width="1"/>
<text x="480.25" y="269.2" font-size="8.6" text-anchor="middle" font-weight="normal" font-style="normal" fill="#222" stroke="#222" stroke-width="0.3" >+/−</text>
<line x1="499.8" y1="254.8" x2="499.8" y2="257.4" stroke="#222" stroke-width="1"/>
<text x="499.8" y="269.2" font-size="8.6" text-anchor="middle" font-weight="normal" font-style="normal" fill="#222" stroke="#222" stroke-width="0.3" >−/−</text>
<text x="480.3" y="280.3" font-size="9.9" text-anchor="middle" font-weight="normal" font-style="italic" fill="#222" stroke="#222" stroke-width="0.7" textLength="23.5" lengthAdjust="spacingAndGlyphs">Tmprss6</text>
<text transform="translate(415.2,216.6) rotate(-90)" x="0" y="0" font-size="9.2" text-anchor="middle" fill="#222" stroke="#222" stroke-width="0.42" textLength="63.5" lengthAdjust="spacingAndGlyphs">Kidney non-heme iron</text>
<text transform="translate(426.5,217.2) rotate(-90)" x="0" y="0" font-size="9.2" text-anchor="middle" fill="#222" stroke="#222" stroke-width="0.42" textLength="43.5" lengthAdjust="spacingAndGlyphs">(μg/g wet wt)</text>
<line x1="460.4" y1="180.4" x2="499.6" y2="180.4" stroke="#4a4a4a" stroke-width="1.1"/>
<circle cx="477.15" cy="176.1" r="1.05" fill="#1a1a1a"/>
<circle cx="480" cy="176.1" r="1.05" fill="#1a1a1a"/>
<circle cx="482.85" cy="176.1" r="1.05" fill="#1a1a1a"/>
<line x1="480.2" y1="188.2" x2="499.6" y2="188.2" stroke="#4a4a4a" stroke-width="1.1"/>
<circle cx="487.05" cy="183.9" r="1.05" fill="#1a1a1a"/>
<circle cx="489.9" cy="183.9" r="1.05" fill="#1a1a1a"/>
<circle cx="492.75" cy="183.9" r="1.05" fill="#1a1a1a"/>
<text x="9.9" y="307.9" font-size="11.2" text-anchor="start" font-weight="bold" font-style="normal" fill="#000" stroke="#000" stroke-width="0.45" >I</text>
<rect x="64" y="371.9" width="13.4" height="27.5" fill="#c20325"/>
<rect x="83.45" y="370.8" width="13.4" height="28.6" fill="#d6544f"/>
<rect x="103" y="356.9" width="13.4" height="42.5" fill="#e68f82"/>
<line x1="70.7" y1="366.7" x2="70.7" y2="377" stroke="#2e2022" stroke-width="1.05"/>
<line x1="66.9" y1="366.7" x2="74.5" y2="366.7" stroke="#2e2022" stroke-width="1.05"/>
<line x1="66.9" y1="377" x2="74.5" y2="377" stroke="#2e2022" stroke-width="1.05"/>
<line x1="90.15" y1="363.3" x2="90.15" y2="374" stroke="#2e2022" stroke-width="1.05"/>
<line x1="86.35" y1="363.3" x2="93.95" y2="363.3" stroke="#2e2022" stroke-width="1.05"/>
<line x1="86.35" y1="374" x2="93.95" y2="374" stroke="#2e2022" stroke-width="1.05"/>
<line x1="109.7" y1="348.4" x2="109.7" y2="365.4" stroke="#2e2022" stroke-width="1.05"/>
<line x1="105.9" y1="348.4" x2="113.5" y2="348.4" stroke="#2e2022" stroke-width="1.05"/>
<line x1="105.9" y1="365.4" x2="113.5" y2="365.4" stroke="#2e2022" stroke-width="1.05"/>
<circle cx="70.6" cy="359.3" r="1.35" fill="#8e1426" stroke="#2a1014" stroke-width="0.95"/>
<circle cx="69.8" cy="369" r="1.35" fill="#8e1426" stroke="#2a1014" stroke-width="0.95"/>
<circle cx="71.5" cy="369.6" r="1.35" fill="#8e1426" stroke="#2a1014" stroke-width="0.95"/>
<circle cx="68.1" cy="373.6" r="1.35" fill="#8e1426" stroke="#2a1014" stroke-width="0.95"/>
<circle cx="71.5" cy="373.6" r="1.35" fill="#8e1426" stroke="#2a1014" stroke-width="0.95"/>
<circle cx="74.4" cy="374.2" r="1.35" fill="#8e1426" stroke="#2a1014" stroke-width="0.95"/>
<circle cx="89.8" cy="351.9" r="1.35" fill="#8e1426" stroke="#2a1014" stroke-width="0.95"/>
<circle cx="89.4" cy="365.6" r="1.35" fill="#d6544f" fill-opacity="0.55" stroke="#2a1014" stroke-width="0.95"/>
<circle cx="90" cy="368.5" r="1.35" fill="#d6544f" fill-opacity="0.55" stroke="#2a1014" stroke-width="0.95"/>
<circle cx="86.5" cy="371.3" r="1.35" fill="#d6544f" fill-opacity="0.55" stroke="#2a1014" stroke-width="0.95"/>
<circle cx="89.4" cy="373" r="1.35" fill="#d6544f" fill-opacity="0.55" stroke="#2a1014" stroke-width="0.95"/>
<circle cx="92.3" cy="372.5" r="1.35" fill="#d6544f" fill-opacity="0.55" stroke="#2a1014" stroke-width="0.95"/>
<circle cx="94.6" cy="373" r="1.35" fill="#d6544f" fill-opacity="0.55" stroke="#2a1014" stroke-width="0.95"/>
<circle cx="109" cy="339.2" r="1.35" fill="#e68f82" fill-opacity="0.55" stroke="#2a1014" stroke-width="0.95"/>
<circle cx="107.3" cy="350.8" r="1.35" fill="#e68f82" fill-opacity="0.55" stroke="#2a1014" stroke-width="0.95"/>
<circle cx="110.7" cy="350.8" r="1.35" fill="#e68f82" fill-opacity="0.55" stroke="#2a1014" stroke-width="0.95"/>
<circle cx="113.6" cy="352.5" r="1.35" fill="#e68f82" fill-opacity="0.55" stroke="#2a1014" stroke-width="0.95"/>
<circle cx="103.8" cy="354.7" r="1.35" fill="#e68f82" fill-opacity="0.55" stroke="#2a1014" stroke-width="0.95"/>
<circle cx="103.8" cy="361.6" r="1.35" fill="#e68f82" fill-opacity="0.55" stroke="#2a1014" stroke-width="0.95"/>
<circle cx="107.3" cy="362.1" r="1.35" fill="#e68f82" fill-opacity="0.55" stroke="#2a1014" stroke-width="0.95"/>
<circle cx="110.2" cy="362.7" r="1.35" fill="#e68f82" fill-opacity="0.55" stroke="#2a1014" stroke-width="0.95"/>
<circle cx="113.6" cy="363.3" r="1.35" fill="#e68f82" fill-opacity="0.55" stroke="#2a1014" stroke-width="0.95"/>
<circle cx="109" cy="368.5" r="1.35" fill="#e68f82" fill-opacity="0.55" stroke="#2a1014" stroke-width="0.95"/>
<line x1="56.8" y1="323.6" x2="56.8" y2="400" stroke="#222" stroke-width="1.25"/>
<line x1="54.2" y1="399.4" x2="123.1" y2="399.4" stroke="#222" stroke-width="1.25"/>
<text x="52" y="402.1" font-size="7.6" text-anchor="end" font-weight="normal" font-style="normal" fill="#222" stroke="#222" stroke-width="0.1" letter-spacing="0.45">0.0</text>
<line x1="53.8" y1="381.15" x2="56.8" y2="381.15" stroke="#222" stroke-width="1"/>
<text x="52" y="383.85" font-size="7.6" text-anchor="end" font-weight="normal" font-style="normal" fill="#222" stroke="#222" stroke-width="0.1" letter-spacing="0.45">0.2</text>
<line x1="53.8" y1="362.9" x2="56.8" y2="362.9" stroke="#222" stroke-width="1"/>
<text x="52" y="365.6" font-size="7.6" text-anchor="end" font-weight="normal" font-style="normal" fill="#222" stroke="#222" stroke-width="0.1" letter-spacing="0.45">0.4</text>
<line x1="53.8" y1="344.65" x2="56.8" y2="344.65" stroke="#222" stroke-width="1"/>
<text x="52" y="347.35" font-size="7.6" text-anchor="end" font-weight="normal" font-style="normal" fill="#222" stroke="#222" stroke-width="0.1" letter-spacing="0.45">0.6</text>
<line x1="53.8" y1="326.4" x2="56.8" y2="326.4" stroke="#222" stroke-width="1"/>
<text x="52" y="329.1" font-size="7.6" text-anchor="end" font-weight="normal" font-style="normal" fill="#222" stroke="#222" stroke-width="0.1" letter-spacing="0.45">0.8</text>
<line x1="70.7" y1="399.4" x2="70.7" y2="402" stroke="#222" stroke-width="1"/>
<text x="70.7" y="413.3" font-size="8.6" text-anchor="middle" font-weight="normal" font-style="normal" fill="#222" stroke="#222" stroke-width="0.15" >+/+</text>
<line x1="90.15" y1="399.4" x2="90.15" y2="402" stroke="#222" stroke-width="1"/>
<text x="90.15" y="413.3" font-size="8.6" text-anchor="middle" font-weight="normal" font-style="normal" fill="#222" stroke="#222" stroke-width="0.15" >+/−</text>
<line x1="109.7" y1="399.4" x2="109.7" y2="402" stroke="#222" stroke-width="1"/>
<text x="109.7" y="413.3" font-size="8.6" text-anchor="middle" font-weight="normal" font-style="normal" fill="#222" stroke="#222" stroke-width="0.15" >−/−</text>
<text x="90.2" y="424.9" font-size="9.9" text-anchor="middle" font-weight="normal" font-style="italic" fill="#222" stroke="#222" stroke-width="0.7" textLength="23.5" lengthAdjust="spacingAndGlyphs">Tmprss6</text>
<text transform="translate(34.7,362) rotate(-90)" x="0" y="0" font-size="9.2" text-anchor="middle" fill="#222" stroke="#222" stroke-width="0.42" textLength="83" lengthAdjust="spacingAndGlyphs">Spleen:body weight ratio (%)</text>
<line x1="68.7" y1="323.3" x2="109" y2="323.3" stroke="#4a4a4a" stroke-width="1.1"/>
<circle cx="84.57" cy="319" r="1.05" fill="#1a1a1a"/>
<circle cx="87.42" cy="319" r="1.05" fill="#1a1a1a"/>
<circle cx="90.27" cy="319" r="1.05" fill="#1a1a1a"/>
<circle cx="93.12" cy="319" r="1.05" fill="#1a1a1a"/>
<line x1="88.3" y1="331.7" x2="109" y2="331.7" stroke="#4a4a4a" stroke-width="1.1"/>
<circle cx="95.8" cy="327.4" r="1.05" fill="#1a1a1a"/>
<circle cx="98.65" cy="327.4" r="1.05" fill="#1a1a1a"/>
<circle cx="101.5" cy="327.4" r="1.05" fill="#1a1a1a"/>
<text x="140.3" y="307.9" font-size="11.2" text-anchor="start" font-weight="bold" font-style="normal" fill="#000" stroke="#000" stroke-width="0.45" >J</text>
<rect x="193.8" y="385.2" width="13.4" height="14.2" fill="#c20325"/>
<rect x="213.25" y="385.8" width="13.4" height="13.6" fill="#d6544f"/>
<rect x="232.8" y="367.9" width="13.4" height="31.5" fill="#e68f82"/>
<line x1="239.5" y1="354.6" x2="239.5" y2="381.4" stroke="#2e2022" stroke-width="1.05"/>
<line x1="235.7" y1="354.6" x2="243.3" y2="354.6" stroke="#2e2022" stroke-width="1.05"/>
<line x1="235.7" y1="381.4" x2="243.3" y2="381.4" stroke="#2e2022" stroke-width="1.05"/>
<circle cx="200.4" cy="377.7" r="1.35" fill="#8e1426" stroke="#2a1014" stroke-width="0.95"/>
<circle cx="198.7" cy="379.4" r="1.35" fill="#8e1426" stroke="#2a1014" stroke-width="0.95"/>
<circle cx="202.7" cy="381.7" r="1.35" fill="#8e1426" stroke="#2a1014" stroke-width="0.95"/>
<circle cx="201" cy="383.5" r="1.35" fill="#8e1426" stroke="#2a1014" stroke-width="0.95"/>
<circle cx="197.5" cy="386.9" r="1.35" fill="#8e1426" stroke="#2a1014" stroke-width="0.95"/>
<circle cx="201" cy="387.5" r="1.35" fill="#8e1426" stroke="#2a1014" stroke-width="0.95"/>
<circle cx="204.4" cy="386.9" r="1.35" fill="#8e1426" stroke="#2a1014" stroke-width="0.95"/>
<circle cx="199.2" cy="388.6" r="1.35" fill="#8e1426" stroke="#2a1014" stroke-width="0.95"/>
<circle cx="202.7" cy="390.3" r="1.35" fill="#8e1426" stroke="#2a1014" stroke-width="0.95"/>
<circle cx="219.8" cy="378.3" r="1.35" fill="#8e1426" stroke="#2a1014" stroke-width="0.95"/>
<circle cx="217.1" cy="380.9" r="1.35" fill="#8e1426" stroke="#2a1014" stroke-width="0.95"/>
<circle cx="222.3" cy="381.7" r="1.35" fill="#8e1426" stroke="#2a1014" stroke-width="0.95"/>
<circle cx="214.8" cy="385.2" r="1.35" fill="#d6544f" fill-opacity="0.55" stroke="#2a1014" stroke-width="0.95"/>
<circle cx="218.3" cy="386.3" r="1.35" fill="#d6544f" fill-opacity="0.55" stroke="#2a1014" stroke-width="0.95"/>
<circle cx="221.7" cy="386.9" r="1.35" fill="#d6544f" fill-opacity="0.55" stroke="#2a1014" stroke-width="0.95"/>
<circle cx="224.6" cy="388.6" r="1.35" fill="#d6544f" fill-opacity="0.55" stroke="#2a1014" stroke-width="0.95"/>
<circle cx="217.7" cy="389.2" r="1.35" fill="#d6544f" fill-opacity="0.55" stroke="#2a1014" stroke-width="0.95"/>
<circle cx="239.4" cy="336" r="1.35" fill="#e68f82" fill-opacity="0.55" stroke="#2a1014" stroke-width="0.95"/>
<circle cx="236.7" cy="363.3" r="1.35" fill="#e68f82" fill-opacity="0.55" stroke="#2a1014" stroke-width="0.95"/>
<circle cx="241.3" cy="366.7" r="1.35" fill="#e68f82" fill-opacity="0.55" stroke="#2a1014" stroke-width="0.95"/>
<circle cx="243.6" cy="367.9" r="1.35" fill="#e68f82" fill-opacity="0.55" stroke="#2a1014" stroke-width="0.95"/>
<circle cx="234.4" cy="369.6" r="1.35" fill="#e68f82" fill-opacity="0.55" stroke="#2a1014" stroke-width="0.95"/>
<circle cx="236.7" cy="374.2" r="1.35" fill="#e68f82" fill-opacity="0.55" stroke="#2a1014" stroke-width="0.95"/>
<circle cx="241.3" cy="377.7" r="1.35" fill="#e68f82" fill-opacity="0.55" stroke="#2a1014" stroke-width="0.95"/>
<circle cx="239" cy="385.2" r="1.35" fill="#e68f82" fill-opacity="0.55" stroke="#2a1014" stroke-width="0.95"/>
<line x1="186.6" y1="323.6" x2="186.6" y2="400" stroke="#222" stroke-width="1.25"/>
<line x1="184" y1="399.4" x2="252.9" y2="399.4" stroke="#222" stroke-width="1.25"/>
<text x="181" y="402.1" font-size="7.6" text-anchor="end" font-weight="normal" font-style="normal" fill="#222" stroke="#222" stroke-width="0.1" letter-spacing="0.45">0</text>
<line x1="183.6" y1="381.15" x2="186.6" y2="381.15" stroke="#222" stroke-width="1"/>
<text x="181" y="383.85" font-size="7.6" text-anchor="end" font-weight="normal" font-style="normal" fill="#222" stroke="#222" stroke-width="0.1" letter-spacing="0.45">10</text>
<line x1="183.6" y1="362.9" x2="186.6" y2="362.9" stroke="#222" stroke-width="1"/>
<text x="181" y="365.6" font-size="7.6" text-anchor="end" font-weight="normal" font-style="normal" fill="#222" stroke="#222" stroke-width="0.1" letter-spacing="0.45">20</text>
<line x1="183.6" y1="344.65" x2="186.6" y2="344.65" stroke="#222" stroke-width="1"/>
<text x="181" y="347.35" font-size="7.6" text-anchor="end" font-weight="normal" font-style="normal" fill="#222" stroke="#222" stroke-width="0.1" letter-spacing="0.45">30</text>
<line x1="183.6" y1="326.4" x2="186.6" y2="326.4" stroke="#222" stroke-width="1"/>
<text x="181" y="329.1" font-size="7.6" text-anchor="end" font-weight="normal" font-style="normal" fill="#222" stroke="#222" stroke-width="0.1" letter-spacing="0.45">40</text>
<line x1="200.5" y1="399.4" x2="200.5" y2="402" stroke="#222" stroke-width="1"/>
<text x="200.5" y="413.3" font-size="8.6" text-anchor="middle" font-weight="normal" font-style="normal" fill="#222" stroke="#222" stroke-width="0.15" >+/+</text>
<line x1="219.95" y1="399.4" x2="219.95" y2="402" stroke="#222" stroke-width="1"/>
<text x="219.95" y="413.3" font-size="8.6" text-anchor="middle" font-weight="normal" font-style="normal" fill="#222" stroke="#222" stroke-width="0.15" >+/−</text>
<line x1="239.5" y1="399.4" x2="239.5" y2="402" stroke="#222" stroke-width="1"/>
<text x="239.5" y="413.3" font-size="8.6" text-anchor="middle" font-weight="normal" font-style="normal" fill="#222" stroke="#222" stroke-width="0.15" >−/−</text>
<text x="220" y="424.9" font-size="9.9" text-anchor="middle" font-weight="normal" font-style="italic" fill="#222" stroke="#222" stroke-width="0.7" textLength="23.5" lengthAdjust="spacingAndGlyphs">Tmprss6</text>
<text transform="translate(165.7,363.2) rotate(-90)" x="0" y="0" font-size="9.2" text-anchor="middle" fill="#222" stroke="#222" stroke-width="0.42" textLength="66" lengthAdjust="spacingAndGlyphs">Total spleen iron (μg)</text>
<line x1="200.2" y1="322.5" x2="239" y2="322.5" stroke="#4a4a4a" stroke-width="1.1"/>
<circle cx="216.75" cy="318.2" r="1.05" fill="#1a1a1a"/>
<circle cx="219.6" cy="318.2" r="1.05" fill="#1a1a1a"/>
<circle cx="222.45" cy="318.2" r="1.05" fill="#1a1a1a"/>
<line x1="220.2" y1="331.4" x2="239" y2="331.4" stroke="#4a4a4a" stroke-width="1.1"/>
<circle cx="226.75" cy="327.1" r="1.05" fill="#1a1a1a"/>
<circle cx="229.6" cy="327.1" r="1.05" fill="#1a1a1a"/>
<circle cx="232.45" cy="327.1" r="1.05" fill="#1a1a1a"/>
<text x="268.7" y="307.9" font-size="11.2" text-anchor="start" font-weight="bold" font-style="normal" fill="#000" stroke="#000" stroke-width="0.45" >K</text>
<rect x="324.1" y="396" width="13.4" height="3.4" fill="#c20325"/>
<rect x="343.55" y="395.3" width="13.4" height="4.1" fill="#d6544f"/>
<rect x="363.1" y="375.2" width="13.4" height="24.2" fill="#e68f82"/>
<line x1="369.8" y1="358.2" x2="369.8" y2="391" stroke="#2e2022" stroke-width="1.05"/>
<line x1="366" y1="358.2" x2="373.6" y2="358.2" stroke="#2e2022" stroke-width="1.05"/>
<line x1="366" y1="391" x2="373.6" y2="391" stroke="#2e2022" stroke-width="1.05"/>
<circle cx="326.1" cy="395.5" r="1.35" fill="#8e1426" stroke="#2a1014" stroke-width="0.95"/>
<circle cx="328.5" cy="394.5" r="1.35" fill="#8e1426" stroke="#2a1014" stroke-width="0.95"/>
<circle cx="330.4" cy="392.8" r="1.35" fill="#8e1426" stroke="#2a1014" stroke-width="0.95"/>
<circle cx="332.5" cy="394.5" r="1.35" fill="#8e1426" stroke="#2a1014" stroke-width="0.95"/>
<circle cx="335" cy="395.7" r="1.35" fill="#8e1426" stroke="#2a1014" stroke-width="0.95"/>
<circle cx="327.5" cy="397.3" r="1.35" fill="#8e1426" stroke="#2a1014" stroke-width="0.95"/>
<circle cx="331.5" cy="397.3" r="1.35" fill="#8e1426" stroke="#2a1014" stroke-width="0.95"/>
<circle cx="335.5" cy="397.5" r="1.35" fill="#8e1426" stroke="#2a1014" stroke-width="0.95"/>
<circle cx="345.8" cy="396.5" r="1.35" fill="#8e1426" stroke="#2a1014" stroke-width="0.95"/>
<circle cx="348" cy="394.5" r="1.35" fill="#8e1426" stroke="#2a1014" stroke-width="0.95"/>
<circle cx="351.1" cy="391.9" r="1.35" fill="#8e1426" stroke="#2a1014" stroke-width="0.95"/>
<circle cx="353.3" cy="394.5" r="1.35" fill="#8e1426" stroke="#2a1014" stroke-width="0.95"/>
<circle cx="355.8" cy="396.7" r="1.35" fill="#8e1426" stroke="#2a1014" stroke-width="0.95"/>
<circle cx="349" cy="397.3" r="1.35" fill="#8e1426" stroke="#2a1014" stroke-width="0.95"/>
<circle cx="352.7" cy="397.3" r="1.35" fill="#8e1426" stroke="#2a1014" stroke-width="0.95"/>
<circle cx="369.6" cy="332.1" r="1.35" fill="#e68f82" fill-opacity="0.55" stroke="#2a1014" stroke-width="0.95"/>
<circle cx="369.4" cy="368.3" r="1.35" fill="#3a1418" stroke="#2a1014" stroke-width="0.95"/>
<circle cx="367.3" cy="371.1" r="1.35" fill="#e68f82" fill-opacity="0.55" stroke="#2a1014" stroke-width="0.95"/>
<circle cx="370.7" cy="374.6" r="1.35" fill="#e68f82" fill-opacity="0.55" stroke="#2a1014" stroke-width="0.95"/>
<circle cx="370.7" cy="378.6" r="1.35" fill="#e68f82" fill-opacity="0.55" stroke="#2a1014" stroke-width="0.95"/>
<circle cx="367.3" cy="381" r="1.35" fill="#e68f82" fill-opacity="0.55" stroke="#2a1014" stroke-width="0.95"/>
<circle cx="364.4" cy="385.2" r="1.35" fill="#e68f82" fill-opacity="0.55" stroke="#2a1014" stroke-width="0.95"/>
<circle cx="367.9" cy="385.6" r="1.35" fill="#e68f82" fill-opacity="0.55" stroke="#2a1014" stroke-width="0.95"/>
<circle cx="371.3" cy="385.6" r="1.35" fill="#e68f82" fill-opacity="0.55" stroke="#2a1014" stroke-width="0.95"/>
<circle cx="374.2" cy="385.9" r="1.35" fill="#e68f82" fill-opacity="0.55" stroke="#2a1014" stroke-width="0.95"/>
<line x1="316.9" y1="323.6" x2="316.9" y2="400" stroke="#222" stroke-width="1.25"/>
<line x1="314.3" y1="399.4" x2="383.2" y2="399.4" stroke="#222" stroke-width="1.25"/>
<text x="311.3" y="402.1" font-size="7.6" text-anchor="end" font-weight="normal" font-style="normal" fill="#222" stroke="#222" stroke-width="0.1" letter-spacing="0.45">0</text>
<line x1="313.9" y1="381.15" x2="316.9" y2="381.15" stroke="#222" stroke-width="1"/>
<text x="311.3" y="383.85" font-size="7.6" text-anchor="end" font-weight="normal" font-style="normal" fill="#222" stroke="#222" stroke-width="0.1" letter-spacing="0.45">1000</text>
<line x1="313.9" y1="362.9" x2="316.9" y2="362.9" stroke="#222" stroke-width="1"/>
<text x="311.3" y="365.6" font-size="7.6" text-anchor="end" font-weight="normal" font-style="normal" fill="#222" stroke="#222" stroke-width="0.1" letter-spacing="0.45">2000</text>
<line x1="313.9" y1="344.65" x2="316.9" y2="344.65" stroke="#222" stroke-width="1"/>
<text x="311.3" y="347.35" font-size="7.6" text-anchor="end" font-weight="normal" font-style="normal" fill="#222" stroke="#222" stroke-width="0.1" letter-spacing="0.45">3000</text>
<line x1="313.9" y1="326.4" x2="316.9" y2="326.4" stroke="#222" stroke-width="1"/>
<text x="311.3" y="329.1" font-size="7.6" text-anchor="end" font-weight="normal" font-style="normal" fill="#222" stroke="#222" stroke-width="0.1" letter-spacing="0.45">4000</text>
<line x1="330.8" y1="399.4" x2="330.8" y2="402" stroke="#222" stroke-width="1"/>
<text x="330.8" y="413.3" font-size="8.6" text-anchor="middle" font-weight="normal" font-style="normal" fill="#222" stroke="#222" stroke-width="0.15" >+/+</text>
<line x1="350.25" y1="399.4" x2="350.25" y2="402" stroke="#222" stroke-width="1"/>
<text x="350.25" y="413.3" font-size="8.6" text-anchor="middle" font-weight="normal" font-style="normal" fill="#222" stroke="#222" stroke-width="0.15" >+/−</text>
<line x1="369.8" y1="399.4" x2="369.8" y2="402" stroke="#222" stroke-width="1"/>
<text x="369.8" y="413.3" font-size="8.6" text-anchor="middle" font-weight="normal" font-style="normal" fill="#222" stroke="#222" stroke-width="0.15" >−/−</text>
<text x="350.3" y="424.9" font-size="9.9" text-anchor="middle" font-weight="normal" font-style="italic" fill="#222" stroke="#222" stroke-width="0.7" textLength="23.5" lengthAdjust="spacingAndGlyphs">Tmprss6</text>
<text transform="translate(287.4,361.3) rotate(-90)" x="0" y="0" font-size="9.2" text-anchor="middle" fill="#222" stroke="#222" stroke-width="0.42" textLength="71" lengthAdjust="spacingAndGlyphs">Plasma cFGF23 (pg/mL)</text>
<line x1="330.4" y1="320.2" x2="369.8" y2="320.2" stroke="#4a4a4a" stroke-width="1.1"/>
<circle cx="345.83" cy="315.9" r="1.05" fill="#1a1a1a"/>
<circle cx="348.68" cy="315.9" r="1.05" fill="#1a1a1a"/>
<circle cx="351.53" cy="315.9" r="1.05" fill="#1a1a1a"/>
<circle cx="354.38" cy="315.9" r="1.05" fill="#1a1a1a"/>
<line x1="350.2" y1="327.9" x2="369.8" y2="327.9" stroke="#4a4a4a" stroke-width="1.1"/>
<circle cx="355.73" cy="323.6" r="1.05" fill="#1a1a1a"/>
<circle cx="358.57" cy="323.6" r="1.05" fill="#1a1a1a"/>
<circle cx="361.43" cy="323.6" r="1.05" fill="#1a1a1a"/>
<circle cx="364.27" cy="323.6" r="1.05" fill="#1a1a1a"/>
<text x="399.6" y="307.9" font-size="11.2" text-anchor="start" font-weight="bold" font-style="normal" fill="#000" stroke="#000" stroke-width="0.45" >L</text>
<rect x="454.1" y="377.7" width="13.4" height="21.7" fill="#c20325"/>
<rect x="473.55" y="371.9" width="13.4" height="27.5" fill="#d6544f"/>
<rect x="493.1" y="367.3" width="13.4" height="32.1" fill="#e68f82"/>
<line x1="460.8" y1="371" x2="460.8" y2="384.4" stroke="#2e2022" stroke-width="1.05"/>
<line x1="457" y1="371" x2="464.6" y2="371" stroke="#2e2022" stroke-width="1.05"/>
<line x1="457" y1="384.4" x2="464.6" y2="384.4" stroke="#2e2022" stroke-width="1.05"/>
<line x1="480.25" y1="359.2" x2="480.25" y2="383" stroke="#2e2022" stroke-width="1.05"/>
<line x1="476.45" y1="359.2" x2="484.05" y2="359.2" stroke="#2e2022" stroke-width="1.05"/>
<line x1="476.45" y1="383" x2="484.05" y2="383" stroke="#2e2022" stroke-width="1.05"/>
<line x1="499.8" y1="356.3" x2="499.8" y2="374.8" stroke="#2e2022" stroke-width="1.05"/>
<line x1="496" y1="356.3" x2="503.6" y2="356.3" stroke="#2e2022" stroke-width="1.05"/>
<line x1="496" y1="374.8" x2="503.6" y2="374.8" stroke="#2e2022" stroke-width="1.05"/>
<circle cx="458.7" cy="365.6" r="1.35" fill="#8e1426" stroke="#2a1014" stroke-width="0.95"/>
<circle cx="462.1" cy="367.1" r="1.35" fill="#8e1426" stroke="#2a1014" stroke-width="0.95"/>
<circle cx="461" cy="374.2" r="1.35" fill="#3a1418" stroke="#2a1014" stroke-width="0.95"/>
<circle cx="464.4" cy="376.5" r="1.35" fill="#8e1426" stroke="#2a1014" stroke-width="0.95"/>
<circle cx="458" cy="380.6" r="1.35" fill="#8e1426" stroke="#2a1014" stroke-width="0.95"/>
<circle cx="461" cy="381.7" r="1.35" fill="#8e1426" stroke="#2a1014" stroke-width="0.95"/>
<circle cx="463.8" cy="380.2" r="1.35" fill="#8e1426" stroke="#2a1014" stroke-width="0.95"/>
<circle cx="480.2" cy="341.3" r="1.35" fill="#3a1418" stroke="#2a1014" stroke-width="0.95"/>
<circle cx="480.2" cy="359.3" r="1.35" fill="#3a1418" stroke="#2a1014" stroke-width="0.95"/>
<circle cx="480.2" cy="366.1" r="1.35" fill="#8e1426" stroke="#2a1014" stroke-width="0.95"/>
<circle cx="474.8" cy="373.1" r="1.35" fill="#d6544f" fill-opacity="0.55" stroke="#2a1014" stroke-width="0.95"/>
<circle cx="478.3" cy="373.1" r="1.35" fill="#d6544f" fill-opacity="0.55" stroke="#2a1014" stroke-width="0.95"/>
<circle cx="481.7" cy="372.5" r="1.35" fill="#d6544f" fill-opacity="0.55" stroke="#2a1014" stroke-width="0.95"/>
<circle cx="485.2" cy="372.5" r="1.35" fill="#d6544f" fill-opacity="0.55" stroke="#2a1014" stroke-width="0.95"/>
<circle cx="476" cy="377.7" r="1.35" fill="#d6544f" fill-opacity="0.55" stroke="#2a1014" stroke-width="0.95"/>
<circle cx="474.8" cy="380" r="1.35" fill="#d6544f" fill-opacity="0.55" stroke="#2a1014" stroke-width="0.95"/>
<circle cx="478.3" cy="382.3" r="1.35" fill="#d6544f" fill-opacity="0.55" stroke="#2a1014" stroke-width="0.95"/>
<circle cx="481.7" cy="382.9" r="1.35" fill="#d6544f" fill-opacity="0.55" stroke="#2a1014" stroke-width="0.95"/>
<circle cx="485.2" cy="382.9" r="1.35" fill="#d6544f" fill-opacity="0.55" stroke="#2a1014" stroke-width="0.95"/>
<circle cx="499.6" cy="342.1" r="1.35" fill="#e68f82" fill-opacity="0.55" stroke="#2a1014" stroke-width="0.95"/>
<circle cx="496.1" cy="362.7" r="1.35" fill="#e68f82" fill-opacity="0.55" stroke="#2a1014" stroke-width="0.95"/>
<circle cx="499" cy="362.7" r="1.35" fill="#e68f82" fill-opacity="0.55" stroke="#2a1014" stroke-width="0.95"/>
<circle cx="502.5" cy="363.3" r="1.35" fill="#e68f82" fill-opacity="0.55" stroke="#2a1014" stroke-width="0.95"/>
<circle cx="494.4" cy="367.9" r="1.35" fill="#e68f82" fill-opacity="0.55" stroke="#2a1014" stroke-width="0.95"/>
<circle cx="497.3" cy="367.9" r="1.35" fill="#e68f82" fill-opacity="0.55" stroke="#2a1014" stroke-width="0.95"/>
<circle cx="500.8" cy="367.9" r="1.35" fill="#e68f82" fill-opacity="0.55" stroke="#2a1014" stroke-width="0.95"/>
<circle cx="504.2" cy="367.9" r="1.35" fill="#e68f82" fill-opacity="0.55" stroke="#2a1014" stroke-width="0.95"/>
<circle cx="497.9" cy="373.6" r="1.35" fill="#e68f82" fill-opacity="0.55" stroke="#2a1014" stroke-width="0.95"/>
<circle cx="500.8" cy="374.8" r="1.35" fill="#e68f82" fill-opacity="0.55" stroke="#2a1014" stroke-width="0.95"/>
<line x1="446.9" y1="323.6" x2="446.9" y2="400" stroke="#222" stroke-width="1.25"/>
<line x1="444.3" y1="399.4" x2="513.2" y2="399.4" stroke="#222" stroke-width="1.25"/>
<text x="441.3" y="402.1" font-size="7.6" text-anchor="end" font-weight="normal" font-style="normal" fill="#222" stroke="#222" stroke-width="0.1" letter-spacing="0.45">0</text>
<line x1="443.9" y1="375.07" x2="446.9" y2="375.07" stroke="#222" stroke-width="1"/>
<text x="441.3" y="377.77" font-size="7.6" text-anchor="end" font-weight="normal" font-style="normal" fill="#222" stroke="#222" stroke-width="0.1" letter-spacing="0.45">200</text>
<line x1="443.9" y1="350.73" x2="446.9" y2="350.73" stroke="#222" stroke-width="1"/>
<text x="441.3" y="353.43" font-size="7.6" text-anchor="end" font-weight="normal" font-style="normal" fill="#222" stroke="#222" stroke-width="0.1" letter-spacing="0.45">400</text>
<line x1="443.9" y1="326.4" x2="446.9" y2="326.4" stroke="#222" stroke-width="1"/>
<text x="441.3" y="329.1" font-size="7.6" text-anchor="end" font-weight="normal" font-style="normal" fill="#222" stroke="#222" stroke-width="0.1" letter-spacing="0.45">600</text>
<line x1="460.8" y1="399.4" x2="460.8" y2="402" stroke="#222" stroke-width="1"/>
<text x="460.8" y="413.3" font-size="8.6" text-anchor="middle" font-weight="normal" font-style="normal" fill="#222" stroke="#222" stroke-width="0.15" >+/+</text>
<line x1="480.25" y1="399.4" x2="480.25" y2="402" stroke="#222" stroke-width="1"/>
<text x="480.25" y="413.3" font-size="8.6" text-anchor="middle" font-weight="normal" font-style="normal" fill="#222" stroke="#222" stroke-width="0.15" >+/−</text>
<line x1="499.8" y1="399.4" x2="499.8" y2="402" stroke="#222" stroke-width="1"/>
<text x="499.8" y="413.3" font-size="8.6" text-anchor="middle" font-weight="normal" font-style="normal" fill="#222" stroke="#222" stroke-width="0.15" >−/−</text>
<text x="480.3" y="424.9" font-size="9.9" text-anchor="middle" font-weight="normal" font-style="italic" fill="#222" stroke="#222" stroke-width="0.7" textLength="23.5" lengthAdjust="spacingAndGlyphs">Tmprss6</text>
<text transform="translate(421.7,362) rotate(-90)" x="0" y="0" font-size="9.2" text-anchor="middle" fill="#222" stroke="#222" stroke-width="0.42" textLength="68.5" lengthAdjust="spacingAndGlyphs">Plasma iFGF23 (pg/mL)</text>
<line x1="458.7" y1="326.2" x2="499.6" y2="326.2" stroke="#4a4a4a" stroke-width="1.1"/>
<circle cx="479.15" cy="321.9" r="1.05" fill="#1a1a1a"/>
<text x="7.4" y="452.3" font-size="11.2" text-anchor="start" font-weight="bold" font-style="normal" fill="#000" stroke="#000" stroke-width="0.45" >M</text>
<rect x="64.3" y="527.1" width="13.4" height="19.5" fill="#c20325"/>
<rect x="83.75" y="522.8" width="13.4" height="23.8" fill="#d6544f"/>
<rect x="103.3" y="498.4" width="13.4" height="48.2" fill="#e68f82"/>
<line x1="71" y1="513.8" x2="71" y2="540.4" stroke="#2e2022" stroke-width="1.05"/>
<line x1="67.2" y1="513.8" x2="74.8" y2="513.8" stroke="#2e2022" stroke-width="1.05"/>
<line x1="67.2" y1="540.4" x2="74.8" y2="540.4" stroke="#2e2022" stroke-width="1.05"/>
<line x1="90.45" y1="509.8" x2="90.45" y2="535.6" stroke="#2e2022" stroke-width="1.05"/>
<line x1="86.65" y1="509.8" x2="94.25" y2="509.8" stroke="#2e2022" stroke-width="1.05"/>
<line x1="86.65" y1="535.6" x2="94.25" y2="535.6" stroke="#2e2022" stroke-width="1.05"/>
<line x1="110" y1="488" x2="110" y2="508.3" stroke="#2e2022" stroke-width="1.05"/>
<line x1="106.2" y1="488" x2="113.8" y2="488" stroke="#2e2022" stroke-width="1.05"/>
<line x1="106.2" y1="508.3" x2="113.8" y2="508.3" stroke="#2e2022" stroke-width="1.05"/>
<circle cx="66.3" cy="509.2" r="1.35" fill="#8e1426" stroke="#2a1014" stroke-width="0.95"/>
<circle cx="71" cy="512.1" r="1.35" fill="#8e1426" stroke="#2a1014" stroke-width="0.95"/>
<circle cx="75.6" cy="513.6" r="1.35" fill="#8e1426" stroke="#2a1014" stroke-width="0.95"/>
<circle cx="73.3" cy="522.5" r="1.35" fill="#8e1426" stroke="#2a1014" stroke-width="0.95"/>
<circle cx="69.2" cy="524.2" r="1.35" fill="#8e1426" stroke="#2a1014" stroke-width="0.95"/>
<circle cx="71" cy="536" r="1.35" fill="#8e1426" stroke="#2a1014" stroke-width="0.95"/>
<circle cx="68.5" cy="540" r="1.35" fill="#8e1426" stroke="#2a1014" stroke-width="0.95"/>
<circle cx="71" cy="543" r="1.35" fill="#8e1426" stroke="#2a1014" stroke-width="0.95"/>
<circle cx="90.2" cy="504.4" r="1.35" fill="#d6544f" fill-opacity="0.55" stroke="#2a1014" stroke-width="0.95"/>
<circle cx="86" cy="508.7" r="1.35" fill="#d6544f" fill-opacity="0.55" stroke="#2a1014" stroke-width="0.95"/>
<circle cx="90" cy="512.1" r="1.35" fill="#3a1418" stroke="#2a1014" stroke-width="0.95"/>
<circle cx="94.6" cy="512.1" r="1.35" fill="#d6544f" fill-opacity="0.55" stroke="#2a1014" stroke-width="0.95"/>
<circle cx="92.5" cy="518.2" r="1.35" fill="#d6544f" fill-opacity="0.55" stroke="#2a1014" stroke-width="0.95"/>
<circle cx="87.7" cy="521.9" r="1.35" fill="#d6544f" fill-opacity="0.55" stroke="#2a1014" stroke-width="0.95"/>
<circle cx="87.7" cy="528.3" r="1.35" fill="#d6544f" fill-opacity="0.55" stroke="#2a1014" stroke-width="0.95"/>
<circle cx="92.3" cy="531.1" r="1.35" fill="#d6544f" fill-opacity="0.55" stroke="#2a1014" stroke-width="0.95"/>
<circle cx="90.2" cy="537.5" r="1.35" fill="#d6544f" fill-opacity="0.55" stroke="#2a1014" stroke-width="0.95"/>
<circle cx="90.2" cy="543.8" r="1.35" fill="#d6544f" fill-opacity="0.55" stroke="#2a1014" stroke-width="0.95"/>
<circle cx="104.4" cy="490.6" r="1.35" fill="#e68f82" fill-opacity="0.55" stroke="#2a1014" stroke-width="0.95"/>
<circle cx="107.3" cy="488.6" r="1.35" fill="#e68f82" fill-opacity="0.55" stroke="#2a1014" stroke-width="0.95"/>
<circle cx="111.3" cy="489.2" r="1.35" fill="#e68f82" fill-opacity="0.55" stroke="#2a1014" stroke-width="0.95"/>
<circle cx="114.8" cy="490.6" r="1.35" fill="#e68f82" fill-opacity="0.55" stroke="#2a1014" stroke-width="0.95"/>
<circle cx="109.6" cy="497.3" r="1.35" fill="#3a1418" stroke="#2a1014" stroke-width="0.95"/>
<circle cx="106.1" cy="500.2" r="1.35" fill="#e68f82" fill-opacity="0.55" stroke="#2a1014" stroke-width="0.95"/>
<circle cx="112.5" cy="504.8" r="1.35" fill="#e68f82" fill-opacity="0.55" stroke="#2a1014" stroke-width="0.95"/>
<circle cx="109.6" cy="520.2" r="1.35" fill="#e68f82" fill-opacity="0.55" stroke="#2a1014" stroke-width="0.95"/>
<line x1="57.1" y1="470.4" x2="57.1" y2="547.2" stroke="#222" stroke-width="1.25"/>
<line x1="54.5" y1="546.6" x2="123.4" y2="546.6" stroke="#222" stroke-width="1.25"/>
<text x="51.5" y="549.3" font-size="7.6" text-anchor="end" font-weight="normal" font-style="normal" fill="#222" stroke="#222" stroke-width="0.1" letter-spacing="0.45">0</text>
<line x1="54.1" y1="522.13" x2="57.1" y2="522.13" stroke="#222" stroke-width="1"/>
<text x="51.5" y="524.83" font-size="7.6" text-anchor="end" font-weight="normal" font-style="normal" fill="#222" stroke="#222" stroke-width="0.1" letter-spacing="0.45">4</text>
<line x1="54.1" y1="497.67" x2="57.1" y2="497.67" stroke="#222" stroke-width="1"/>
<text x="51.5" y="500.37" font-size="7.6" text-anchor="end" font-weight="normal" font-style="normal" fill="#222" stroke="#222" stroke-width="0.1" letter-spacing="0.45">8</text>
<line x1="54.1" y1="473.2" x2="57.1" y2="473.2" stroke="#222" stroke-width="1"/>
<text x="51.5" y="475.9" font-size="7.6" text-anchor="end" font-weight="normal" font-style="normal" fill="#222" stroke="#222" stroke-width="0.1" letter-spacing="0.45">12</text>
<line x1="71" y1="546.6" x2="71" y2="549.2" stroke="#222" stroke-width="1"/>
<text x="71" y="560.5" font-size="8.6" text-anchor="middle" font-weight="normal" font-style="normal" fill="#222" stroke="#222" stroke-width="0.15" >+/+</text>
<line x1="90.45" y1="546.6" x2="90.45" y2="549.2" stroke="#222" stroke-width="1"/>
<text x="90.45" y="560.5" font-size="8.6" text-anchor="middle" font-weight="normal" font-style="normal" fill="#222" stroke="#222" stroke-width="0.15" >+/−</text>
<line x1="110" y1="546.6" x2="110" y2="549.2" stroke="#222" stroke-width="1"/>
<text x="110" y="560.5" font-size="8.6" text-anchor="middle" font-weight="normal" font-style="normal" fill="#222" stroke="#222" stroke-width="0.15" >−/−</text>
<text x="90.5" y="571.6" font-size="9.9" text-anchor="middle" font-weight="normal" font-style="italic" fill="#222" stroke="#222" stroke-width="0.7" textLength="23.5" lengthAdjust="spacingAndGlyphs">Tmprss6</text>
<text transform="translate(25.3,508.2) rotate(-90)" x="0" y="0" font-size="9.2" text-anchor="middle" fill="#222" stroke="#222" stroke-width="0.42" textLength="77" lengthAdjust="spacingAndGlyphs">Urine phosphate (mg/dL)/</text>
<text transform="translate(36.5,507.8) rotate(-90)" x="0" y="0" font-size="9.2" text-anchor="middle" fill="#222" stroke="#222" stroke-width="0.42" textLength="70" lengthAdjust="spacingAndGlyphs">urine creatinine (mg/dL)</text>
<line x1="69" y1="474.8" x2="109.6" y2="474.8" stroke="#4a4a4a" stroke-width="1.1"/>
<circle cx="85.02" cy="470.5" r="1.05" fill="#1a1a1a"/>
<circle cx="87.88" cy="470.5" r="1.05" fill="#1a1a1a"/>
<circle cx="90.72" cy="470.5" r="1.05" fill="#1a1a1a"/>
<circle cx="93.58" cy="470.5" r="1.05" fill="#1a1a1a"/>
<line x1="69.2" y1="483.7" x2="91.1" y2="483.7" stroke="#4a4a4a" stroke-width="1.1"/>
<circle cx="77.3" cy="479.4" r="1.05" fill="#1a1a1a"/>
<circle cx="80.15" cy="479.4" r="1.05" fill="#1a1a1a"/>
<circle cx="83" cy="479.4" r="1.05" fill="#1a1a1a"/>
<text x="138.7" y="452.3" font-size="11.2" text-anchor="start" font-weight="bold" font-style="normal" fill="#000" stroke="#000" stroke-width="0.45" >N</text>
<rect x="194.1" y="528.2" width="13.4" height="18.1" fill="#c20325"/>
<rect x="213.55" y="525.6" width="13.4" height="20.7" fill="#d6544f"/>
<rect x="233.1" y="502.8" width="13.4" height="43.5" fill="#e68f82"/>
<line x1="200.8" y1="512.9" x2="200.8" y2="543.5" stroke="#2e2022" stroke-width="1.05"/>
<line x1="197" y1="512.9" x2="204.6" y2="512.9" stroke="#2e2022" stroke-width="1.05"/>
<line x1="197" y1="543.5" x2="204.6" y2="543.5" stroke="#2e2022" stroke-width="1.05"/>
<line x1="220.25" y1="511.7" x2="220.25" y2="538.3" stroke="#2e2022" stroke-width="1.05"/>
<line x1="216.45" y1="511.7" x2="224.05" y2="511.7" stroke="#2e2022" stroke-width="1.05"/>
<line x1="216.45" y1="538.3" x2="224.05" y2="538.3" stroke="#2e2022" stroke-width="1.05"/>
<line x1="239.8" y1="489.4" x2="239.8" y2="515.8" stroke="#2e2022" stroke-width="1.05"/>
<line x1="236" y1="489.4" x2="243.6" y2="489.4" stroke="#2e2022" stroke-width="1.05"/>
<line x1="236" y1="515.8" x2="243.6" y2="515.8" stroke="#2e2022" stroke-width="1.05"/>
<circle cx="200.6" cy="497.9" r="1.35" fill="#8e1426" stroke="#2a1014" stroke-width="0.95"/>
<circle cx="200.6" cy="512.9" r="1.35" fill="#3a1418" stroke="#2a1014" stroke-width="0.95"/>
<circle cx="197.2" cy="520.6" r="1.35" fill="#8e1426" stroke="#2a1014" stroke-width="0.95"/>
<circle cx="204.1" cy="522.9" r="1.35" fill="#8e1426" stroke="#2a1014" stroke-width="0.95"/>
<circle cx="200.6" cy="532" r="1.35" fill="#8e1426" stroke="#2a1014" stroke-width="0.95"/>
<circle cx="198" cy="537" r="1.35" fill="#8e1426" stroke="#2a1014" stroke-width="0.95"/>
<circle cx="202" cy="540" r="1.35" fill="#8e1426" stroke="#2a1014" stroke-width="0.95"/>
<circle cx="216.5" cy="505.2" r="1.35" fill="#d6544f" fill-opacity="0.55" stroke="#2a1014" stroke-width="0.95"/>
<circle cx="223.4" cy="507.3" r="1.35" fill="#d6544f" fill-opacity="0.55" stroke="#2a1014" stroke-width="0.95"/>
<circle cx="216.5" cy="514.8" r="1.35" fill="#d6544f" fill-opacity="0.55" stroke="#2a1014" stroke-width="0.95"/>
<circle cx="223.4" cy="519" r="1.35" fill="#d6544f" fill-opacity="0.55" stroke="#2a1014" stroke-width="0.95"/>
<circle cx="220.2" cy="524.8" r="1.35" fill="#3a1418" stroke="#2a1014" stroke-width="0.95"/>
<circle cx="220.2" cy="529.6" r="1.35" fill="#3a1418" stroke="#2a1014" stroke-width="0.95"/>
<circle cx="216.8" cy="531.7" r="1.35" fill="#d6544f" fill-opacity="0.55" stroke="#2a1014" stroke-width="0.95"/>
<circle cx="223.4" cy="534.2" r="1.35" fill="#d6544f" fill-opacity="0.55" stroke="#2a1014" stroke-width="0.95"/>
<circle cx="220.2" cy="538.3" r="1.35" fill="#d6544f" fill-opacity="0.55" stroke="#2a1014" stroke-width="0.95"/>
<circle cx="220.2" cy="544.6" r="1.35" fill="#d6544f" fill-opacity="0.55" stroke="#2a1014" stroke-width="0.95"/>
<circle cx="239.4" cy="479.5" r="1.35" fill="#e68f82" fill-opacity="0.55" stroke="#2a1014" stroke-width="0.95"/>
<circle cx="239.4" cy="488.2" r="1.35" fill="#e68f82" fill-opacity="0.55" stroke="#2a1014" stroke-width="0.95"/>
<circle cx="239.4" cy="497" r="1.35" fill="#3a1418" stroke="#2a1014" stroke-width="0.95"/>
<circle cx="242.7" cy="500.2" r="1.35" fill="#e68f82" fill-opacity="0.55" stroke="#2a1014" stroke-width="0.95"/>
<circle cx="235.9" cy="503.2" r="1.35" fill="#e68f82" fill-opacity="0.55" stroke="#2a1014" stroke-width="0.95"/>
<circle cx="235.9" cy="508.5" r="1.35" fill="#e68f82" fill-opacity="0.55" stroke="#2a1014" stroke-width="0.95"/>
<circle cx="242.8" cy="508.5" r="1.35" fill="#e68f82" fill-opacity="0.55" stroke="#2a1014" stroke-width="0.95"/>
<circle cx="235.9" cy="518.1" r="1.35" fill="#e68f82" fill-opacity="0.55" stroke="#2a1014" stroke-width="0.95"/>
<circle cx="242.8" cy="518.6" r="1.35" fill="#e68f82" fill-opacity="0.55" stroke="#2a1014" stroke-width="0.95"/>
<line x1="186.9" y1="470.4" x2="186.9" y2="546.9" stroke="#222" stroke-width="1.25"/>
<line x1="184.3" y1="546.3" x2="253.2" y2="546.3" stroke="#222" stroke-width="1.25"/>
<text x="181.3" y="549" font-size="7.6" text-anchor="end" font-weight="normal" font-style="normal" fill="#222" stroke="#222" stroke-width="0.1" letter-spacing="0.45">0.0</text>
<line x1="183.9" y1="531.68" x2="186.9" y2="531.68" stroke="#222" stroke-width="1"/>
<text x="181.3" y="534.38" font-size="7.6" text-anchor="end" font-weight="normal" font-style="normal" fill="#222" stroke="#222" stroke-width="0.1" letter-spacing="0.45">0.2</text>
<line x1="183.9" y1="517.06" x2="186.9" y2="517.06" stroke="#222" stroke-width="1"/>
<text x="181.3" y="519.76" font-size="7.6" text-anchor="end" font-weight="normal" font-style="normal" fill="#222" stroke="#222" stroke-width="0.1" letter-spacing="0.45">0.4</text>
<line x1="183.9" y1="502.44" x2="186.9" y2="502.44" stroke="#222" stroke-width="1"/>
<text x="181.3" y="505.14" font-size="7.6" text-anchor="end" font-weight="normal" font-style="normal" fill="#222" stroke="#222" stroke-width="0.1" letter-spacing="0.45">0.6</text>
<line x1="183.9" y1="487.82" x2="186.9" y2="487.82" stroke="#222" stroke-width="1"/>
<text x="181.3" y="490.52" font-size="7.6" text-anchor="end" font-weight="normal" font-style="normal" fill="#222" stroke="#222" stroke-width="0.1" letter-spacing="0.45">0.8</text>
<line x1="183.9" y1="473.2" x2="186.9" y2="473.2" stroke="#222" stroke-width="1"/>
<text x="181.3" y="475.9" font-size="7.6" text-anchor="end" font-weight="normal" font-style="normal" fill="#222" stroke="#222" stroke-width="0.1" letter-spacing="0.45">1.0</text>
<line x1="200.8" y1="546.3" x2="200.8" y2="548.9" stroke="#222" stroke-width="1"/>
<text x="200.8" y="560.2" font-size="8.6" text-anchor="middle" font-weight="normal" font-style="normal" fill="#222" stroke="#222" stroke-width="0.15" >+/+</text>
<line x1="220.25" y1="546.3" x2="220.25" y2="548.9" stroke="#222" stroke-width="1"/>
<text x="220.25" y="560.2" font-size="8.6" text-anchor="middle" font-weight="normal" font-style="normal" fill="#222" stroke="#222" stroke-width="0.15" >+/−</text>
<line x1="239.8" y1="546.3" x2="239.8" y2="548.9" stroke="#222" stroke-width="1"/>
<text x="239.8" y="560.2" font-size="8.6" text-anchor="middle" font-weight="normal" font-style="normal" fill="#222" stroke="#222" stroke-width="0.15" >−/−</text>
<text x="220.3" y="571.3" font-size="9.9" text-anchor="middle" font-weight="normal" font-style="italic" fill="#222" stroke="#222" stroke-width="0.7" textLength="23.5" lengthAdjust="spacingAndGlyphs">Tmprss6</text>
<text transform="translate(154.5,510.3) rotate(-90)" x="0" y="0" font-size="9.2" text-anchor="middle" fill="#222" stroke="#222" stroke-width="0.42" textLength="79" lengthAdjust="spacingAndGlyphs">Phosphate excretion index</text>
<text transform="translate(166.8,507.5) rotate(-90)" x="0" y="0" font-size="9.2" text-anchor="middle" fill="#222" stroke="#222" stroke-width="0.42" textLength="35" lengthAdjust="spacingAndGlyphs">((mg/dL)<tspan dy="-3.5" font-size="7">−1</tspan><tspan dy="3.5">)</tspan></text>
<line x1="199" y1="464.8" x2="239.6" y2="464.8" stroke="#4a4a4a" stroke-width="1.1"/>
<circle cx="217.88" cy="460.5" r="1.05" fill="#1a1a1a"/>
<circle cx="220.73" cy="460.5" r="1.05" fill="#1a1a1a"/>
<line x1="218.3" y1="473.7" x2="239.6" y2="473.7" stroke="#4a4a4a" stroke-width="1.1"/>
<circle cx="227.52" cy="469.4" r="1.05" fill="#1a1a1a"/>
<circle cx="230.38" cy="469.4" r="1.05" fill="#1a1a1a"/>
<text x="268.9" y="452.3" font-size="11.2" text-anchor="start" font-weight="bold" font-style="normal" fill="#000" stroke="#000" stroke-width="0.45" >O</text>
<rect x="324.1" y="503.5" width="13.4" height="42.5" fill="#c20325"/>
<rect x="343.55" y="504.6" width="13.4" height="41.4" fill="#d6544f"/>
<rect x="363.1" y="505.8" width="13.4" height="40.2" fill="#e68f82"/>
<line x1="330.8" y1="494.2" x2="330.8" y2="512.1" stroke="#2e2022" stroke-width="1.05"/>
<line x1="327" y1="494.2" x2="334.6" y2="494.2" stroke="#2e2022" stroke-width="1.05"/>
<line x1="327" y1="512.1" x2="334.6" y2="512.1" stroke="#2e2022" stroke-width="1.05"/>
<line x1="350.25" y1="497.1" x2="350.25" y2="513" stroke="#2e2022" stroke-width="1.05"/>
<line x1="346.45" y1="497.1" x2="354.05" y2="497.1" stroke="#2e2022" stroke-width="1.05"/>
<line x1="346.45" y1="513" x2="354.05" y2="513" stroke="#2e2022" stroke-width="1.05"/>
<line x1="369.8" y1="500" x2="369.8" y2="514.4" stroke="#2e2022" stroke-width="1.05"/>
<line x1="366" y1="500" x2="373.6" y2="500" stroke="#2e2022" stroke-width="1.05"/>
<line x1="366" y1="514.4" x2="373.6" y2="514.4" stroke="#2e2022" stroke-width="1.05"/>
<circle cx="331" cy="491.3" r="1.35" fill="#8e1426" stroke="#2a1014" stroke-width="0.95"/>
<circle cx="329.8" cy="496.5" r="1.35" fill="#8e1426" stroke="#2a1014" stroke-width="0.95"/>
<circle cx="333.3" cy="496" r="1.35" fill="#8e1426" stroke="#2a1014" stroke-width="0.95"/>
<circle cx="325.8" cy="500" r="1.35" fill="#8e1426" stroke="#2a1014" stroke-width="0.95"/>
<circle cx="335.6" cy="499.4" r="1.35" fill="#8e1426" stroke="#2a1014" stroke-width="0.95"/>
<circle cx="328.6" cy="501.5" r="1.35" fill="#8e1426" stroke="#2a1014" stroke-width="0.95"/>
<circle cx="331.5" cy="502.3" r="1.35" fill="#8e1426" stroke="#2a1014" stroke-width="0.95"/>
<circle cx="331" cy="521.9" r="1.35" fill="#8e1426" stroke="#2a1014" stroke-width="0.95"/>
<circle cx="350.2" cy="487.1" r="1.35" fill="#3a1418" stroke="#2a1014" stroke-width="0.95"/>
<circle cx="348.3" cy="502.3" r="1.35" fill="#d6544f" fill-opacity="0.55" stroke="#2a1014" stroke-width="0.95"/>
<circle cx="344.8" cy="504.6" r="1.35" fill="#d6544f" fill-opacity="0.55" stroke="#2a1014" stroke-width="0.95"/>
<circle cx="351.5" cy="504.6" r="1.35" fill="#d6544f" fill-opacity="0.55" stroke="#2a1014" stroke-width="0.95"/>
<circle cx="355.2" cy="504.6" r="1.35" fill="#d6544f" fill-opacity="0.55" stroke="#2a1014" stroke-width="0.95"/>
<circle cx="347.7" cy="508.6" r="1.35" fill="#d6544f" fill-opacity="0.55" stroke="#2a1014" stroke-width="0.95"/>
<circle cx="352.3" cy="511" r="1.35" fill="#d6544f" fill-opacity="0.55" stroke="#2a1014" stroke-width="0.95"/>
<circle cx="348.3" cy="515.6" r="1.35" fill="#d6544f" fill-opacity="0.55" stroke="#2a1014" stroke-width="0.95"/>
<circle cx="351.7" cy="515.6" r="1.35" fill="#d6544f" fill-opacity="0.55" stroke="#2a1014" stroke-width="0.95"/>
<circle cx="369.4" cy="490.8" r="1.35" fill="#e68f82" fill-opacity="0.55" stroke="#2a1014" stroke-width="0.95"/>
<circle cx="369" cy="504" r="1.35" fill="#e68f82" fill-opacity="0.55" stroke="#2a1014" stroke-width="0.95"/>
<circle cx="364.4" cy="506.9" r="1.35" fill="#e68f82" fill-opacity="0.55" stroke="#2a1014" stroke-width="0.95"/>
<circle cx="374.2" cy="505.8" r="1.35" fill="#e68f82" fill-opacity="0.55" stroke="#2a1014" stroke-width="0.95"/>
<circle cx="366.1" cy="512.1" r="1.35" fill="#e68f82" fill-opacity="0.55" stroke="#2a1014" stroke-width="0.95"/>
<circle cx="369.6" cy="513.3" r="1.35" fill="#e68f82" fill-opacity="0.55" stroke="#2a1014" stroke-width="0.95"/>
<circle cx="372.5" cy="515.6" r="1.35" fill="#e68f82" fill-opacity="0.55" stroke="#2a1014" stroke-width="0.95"/>
<line x1="316.9" y1="470.4" x2="316.9" y2="546.6" stroke="#222" stroke-width="1.25"/>
<line x1="314.3" y1="546" x2="383.2" y2="546" stroke="#222" stroke-width="1.25"/>
<text x="311.3" y="548.7" font-size="7.6" text-anchor="end" font-weight="normal" font-style="normal" fill="#222" stroke="#222" stroke-width="0.1" letter-spacing="0.45">0</text>
<line x1="313.9" y1="531.44" x2="316.9" y2="531.44" stroke="#222" stroke-width="1"/>
<text x="311.3" y="534.14" font-size="7.6" text-anchor="end" font-weight="normal" font-style="normal" fill="#222" stroke="#222" stroke-width="0.1" letter-spacing="0.45">5</text>
<line x1="313.9" y1="516.88" x2="316.9" y2="516.88" stroke="#222" stroke-width="1"/>
<text x="311.3" y="519.58" font-size="7.6" text-anchor="end" font-weight="normal" font-style="normal" fill="#222" stroke="#222" stroke-width="0.1" letter-spacing="0.45">10</text>
<line x1="313.9" y1="502.32" x2="316.9" y2="502.32" stroke="#222" stroke-width="1"/>
<text x="311.3" y="505.02" font-size="7.6" text-anchor="end" font-weight="normal" font-style="normal" fill="#222" stroke="#222" stroke-width="0.1" letter-spacing="0.45">15</text>
<line x1="313.9" y1="487.76" x2="316.9" y2="487.76" stroke="#222" stroke-width="1"/>
<text x="311.3" y="490.46" font-size="7.6" text-anchor="end" font-weight="normal" font-style="normal" fill="#222" stroke="#222" stroke-width="0.1" letter-spacing="0.45">20</text>
<line x1="313.9" y1="473.2" x2="316.9" y2="473.2" stroke="#222" stroke-width="1"/>
<text x="311.3" y="475.9" font-size="7.6" text-anchor="end" font-weight="normal" font-style="normal" fill="#222" stroke="#222" stroke-width="0.1" letter-spacing="0.45">25</text>
<line x1="330.8" y1="546" x2="330.8" y2="548.6" stroke="#222" stroke-width="1"/>
<text x="330.8" y="559.9" font-size="8.6" text-anchor="middle" font-weight="normal" font-style="normal" fill="#222" stroke="#222" stroke-width="0.15" >+/+</text>
<line x1="350.25" y1="546" x2="350.25" y2="548.6" stroke="#222" stroke-width="1"/>
<text x="350.25" y="559.9" font-size="8.6" text-anchor="middle" font-weight="normal" font-style="normal" fill="#222" stroke="#222" stroke-width="0.15" >+/−</text>
<line x1="369.8" y1="546" x2="369.8" y2="548.6" stroke="#222" stroke-width="1"/>
<text x="369.8" y="559.9" font-size="8.6" text-anchor="middle" font-weight="normal" font-style="normal" fill="#222" stroke="#222" stroke-width="0.15" >−/−</text>
<text x="350.3" y="571" font-size="9.9" text-anchor="middle" font-weight="normal" font-style="italic" fill="#222" stroke="#222" stroke-width="0.7" textLength="23.5" lengthAdjust="spacingAndGlyphs">Tmprss6</text>
<text transform="translate(296.4,508.1) rotate(-90)" x="0" y="0" font-size="9.2" text-anchor="middle" fill="#222" stroke="#222" stroke-width="0.42" textLength="76" lengthAdjust="spacingAndGlyphs">Serum phosphate (mg/dL)</text>
<text x="399.6" y="452.3" font-size="11.2" text-anchor="start" font-weight="bold" font-style="normal" fill="#000" stroke="#000" stroke-width="0.45" >P</text>
<rect x="454.1" y="528.5" width="13.4" height="17.6" fill="#c20325"/>
<rect x="473.55" y="530.7" width="13.4" height="15.4" fill="#d6544f"/>
<rect x="493.1" y="523" width="13.4" height="23.1" fill="#e68f82"/>
<line x1="460.8" y1="518.2" x2="460.8" y2="538.5" stroke="#2e2022" stroke-width="1.05"/>
<line x1="457" y1="518.2" x2="464.6" y2="518.2" stroke="#2e2022" stroke-width="1.05"/>
<line x1="457" y1="538.5" x2="464.6" y2="538.5" stroke="#2e2022" stroke-width="1.05"/>
<line x1="480.25" y1="519.5" x2="480.25" y2="540.2" stroke="#2e2022" stroke-width="1.05"/>
<line x1="476.45" y1="519.5" x2="484.05" y2="519.5" stroke="#2e2022" stroke-width="1.05"/>
<line x1="476.45" y1="540.2" x2="484.05" y2="540.2" stroke="#2e2022" stroke-width="1.05"/>
<line x1="499.8" y1="503.6" x2="499.8" y2="542.1" stroke="#2e2022" stroke-width="1.05"/>
<line x1="496" y1="503.6" x2="503.6" y2="503.6" stroke="#2e2022" stroke-width="1.05"/>
<line x1="496" y1="542.1" x2="503.6" y2="542.1" stroke="#2e2022" stroke-width="1.05"/>
<circle cx="461" cy="509.6" r="1.35" fill="#8e1426" stroke="#2a1014" stroke-width="0.95"/>
<circle cx="459.7" cy="516.5" r="1.35" fill="#8e1426" stroke="#2a1014" stroke-width="0.95"/>
<circle cx="462.3" cy="519.5" r="1.35" fill="#3a1418" stroke="#2a1014" stroke-width="0.95"/>
<circle cx="462.3" cy="527.6" r="1.35" fill="#8e1426" stroke="#2a1014" stroke-width="0.95"/>
<circle cx="458" cy="531.5" r="1.35" fill="#8e1426" stroke="#2a1014" stroke-width="0.95"/>
<circle cx="462.5" cy="533" r="1.35" fill="#8e1426" stroke="#2a1014" stroke-width="0.95"/>
<circle cx="460" cy="536" r="1.35" fill="#8e1426" stroke="#2a1014" stroke-width="0.95"/>
<circle cx="480.3" cy="510.9" r="1.35" fill="#3a1418" stroke="#2a1014" stroke-width="0.95"/>
<circle cx="480.3" cy="516" r="1.35" fill="#3a1418" stroke="#2a1014" stroke-width="0.95"/>
<circle cx="480.3" cy="527.9" r="1.35" fill="#3a1418" stroke="#2a1014" stroke-width="0.95"/>
<circle cx="475.2" cy="532.4" r="1.35" fill="#d6544f" fill-opacity="0.55" stroke="#2a1014" stroke-width="0.95"/>
<circle cx="478.6" cy="532.8" r="1.35" fill="#d6544f" fill-opacity="0.55" stroke="#2a1014" stroke-width="0.95"/>
<circle cx="482" cy="532.4" r="1.35" fill="#d6544f" fill-opacity="0.55" stroke="#2a1014" stroke-width="0.95"/>
<circle cx="485.1" cy="535.6" r="1.35" fill="#d6544f" fill-opacity="0.55" stroke="#2a1014" stroke-width="0.95"/>
<circle cx="480.3" cy="545" r="1.35" fill="#d6544f" fill-opacity="0.55" stroke="#2a1014" stroke-width="0.95"/>
<circle cx="499.4" cy="481.7" r="1.35" fill="#e68f82" fill-opacity="0.55" stroke="#2a1014" stroke-width="0.95"/>
<circle cx="499.7" cy="503.6" r="1.35" fill="#3a1418" stroke="#2a1014" stroke-width="0.95"/>
<circle cx="498" cy="524.7" r="1.35" fill="#e68f82" fill-opacity="0.55" stroke="#2a1014" stroke-width="0.95"/>
<circle cx="501.4" cy="524" r="1.35" fill="#e68f82" fill-opacity="0.55" stroke="#2a1014" stroke-width="0.95"/>
<circle cx="494.5" cy="529.2" r="1.35" fill="#e68f82" fill-opacity="0.55" stroke="#2a1014" stroke-width="0.95"/>
<circle cx="497.7" cy="530.7" r="1.35" fill="#e68f82" fill-opacity="0.55" stroke="#2a1014" stroke-width="0.95"/>
<circle cx="504.2" cy="533" r="1.35" fill="#e68f82" fill-opacity="0.55" stroke="#2a1014" stroke-width="0.95"/>
<circle cx="500.6" cy="533.3" r="1.35" fill="#e68f82" fill-opacity="0.55" stroke="#2a1014" stroke-width="0.95"/>
<circle cx="499" cy="542.1" r="1.35" fill="#e68f82" fill-opacity="0.55" stroke="#2a1014" stroke-width="0.95"/>
<line x1="446.9" y1="470.4" x2="446.9" y2="546.7" stroke="#222" stroke-width="1.25"/>
<line x1="444.3" y1="546.1" x2="513.2" y2="546.1" stroke="#222" stroke-width="1.25"/>
<text x="441.3" y="548.8" font-size="7.6" text-anchor="end" font-weight="normal" font-style="normal" fill="#222" stroke="#222" stroke-width="0.1" letter-spacing="0.45">0</text>
<line x1="443.9" y1="527.88" x2="446.9" y2="527.88" stroke="#222" stroke-width="1"/>
<text x="441.3" y="530.58" font-size="7.6" text-anchor="end" font-weight="normal" font-style="normal" fill="#222" stroke="#222" stroke-width="0.1" letter-spacing="0.45">1</text>
<line x1="443.9" y1="509.65" x2="446.9" y2="509.65" stroke="#222" stroke-width="1"/>
<text x="441.3" y="512.35" font-size="7.6" text-anchor="end" font-weight="normal" font-style="normal" fill="#222" stroke="#222" stroke-width="0.1" letter-spacing="0.45">2</text>
<line x1="443.9" y1="491.43" x2="446.9" y2="491.43" stroke="#222" stroke-width="1"/>
<text x="441.3" y="494.12" font-size="7.6" text-anchor="end" font-weight="normal" font-style="normal" fill="#222" stroke="#222" stroke-width="0.1" letter-spacing="0.45">3</text>
<line x1="443.9" y1="473.2" x2="446.9" y2="473.2" stroke="#222" stroke-width="1"/>
<text x="441.3" y="475.9" font-size="7.6" text-anchor="end" font-weight="normal" font-style="normal" fill="#222" stroke="#222" stroke-width="0.1" letter-spacing="0.45">4</text>
<line x1="460.8" y1="546.1" x2="460.8" y2="548.7" stroke="#222" stroke-width="1"/>
<text x="460.8" y="560" font-size="8.6" text-anchor="middle" font-weight="normal" font-style="normal" fill="#222" stroke="#222" stroke-width="0.15" >+/+</text>
<line x1="480.25" y1="546.1" x2="480.25" y2="548.7" stroke="#222" stroke-width="1"/>
<text x="480.25" y="560" font-size="8.6" text-anchor="middle" font-weight="normal" font-style="normal" fill="#222" stroke="#222" stroke-width="0.15" >+/−</text>
<line x1="499.8" y1="546.1" x2="499.8" y2="548.7" stroke="#222" stroke-width="1"/>
<text x="499.8" y="560" font-size="8.6" text-anchor="middle" font-weight="normal" font-style="normal" fill="#222" stroke="#222" stroke-width="0.15" >−/−</text>
<text x="480.3" y="571.1" font-size="9.9" text-anchor="middle" font-weight="normal" font-style="italic" fill="#222" stroke="#222" stroke-width="0.7" textLength="23.5" lengthAdjust="spacingAndGlyphs">Tmprss6</text>
<text transform="translate(419.4,508.8) rotate(-90)" x="0" y="0" font-size="9.2" text-anchor="middle" fill="#222" stroke="#222" stroke-width="0.42" textLength="35" lengthAdjust="spacingAndGlyphs">Bone cortex</text>
<text transform="translate(430.6,508.4) rotate(-90)" x="0" y="0" font-size="9.2" text-anchor="middle" fill="#222" stroke="#222" stroke-width="0.42" textLength="51" lengthAdjust="spacingAndGlyphs"><tspan font-style="italic">Fgf23:Actb</tspan> mRNA</text>
<line x1="0" y1="0.5" x2="520" y2="0.5" stroke="#666" stroke-width="1"/>
<line x1="0.5" y1="0" x2="0.5" y2="581" stroke="#666" stroke-width="1"/>
<line x1="519.5" y1="0" x2="519.5" y2="581" stroke="#333" stroke-width="1"/>
<line x1="0" y1="580.5" x2="520" y2="580.5" stroke="#333" stroke-width="1"/>
</svg>
</body></html>
